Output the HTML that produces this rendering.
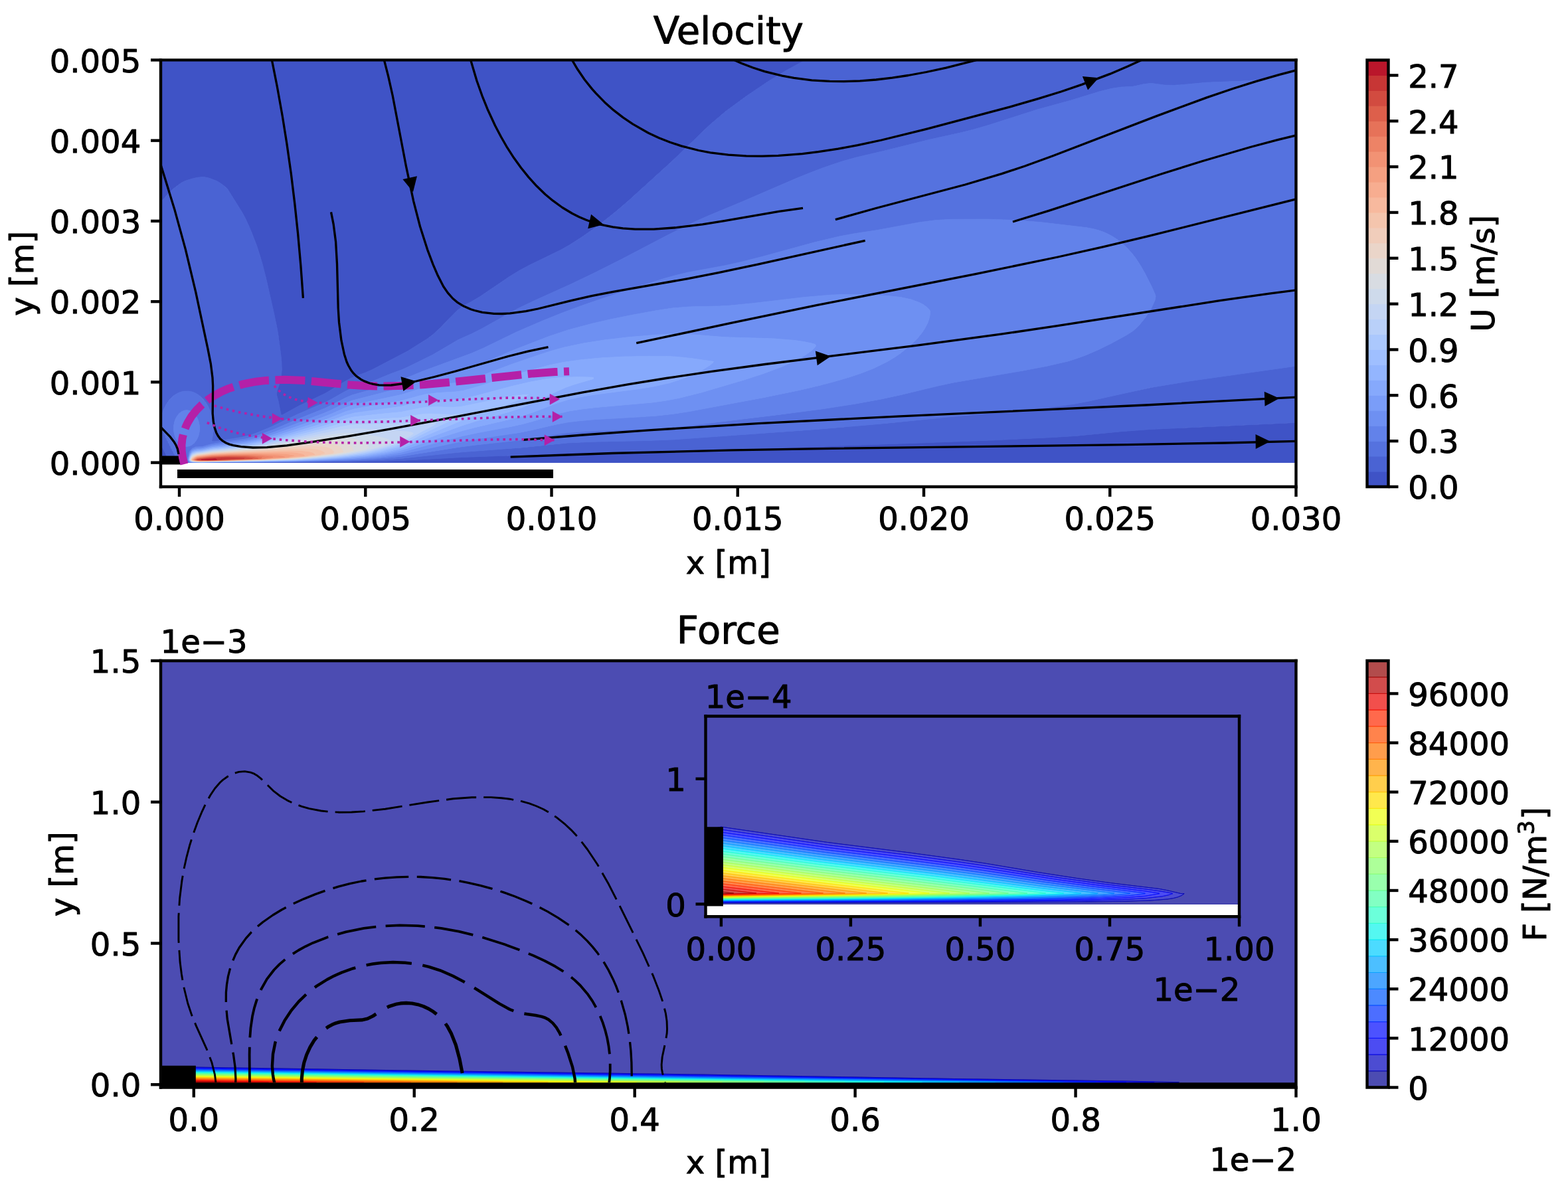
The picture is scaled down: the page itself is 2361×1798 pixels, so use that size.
<!DOCTYPE html>
<html><head><meta charset="utf-8"><title>Velocity and Force</title><style>html,body{margin:0;padding:0;background:#fff;overflow:hidden;}svg{display:block;}svg text{stroke:#000;stroke-width:1px;stroke-linejoin:round;}</style></head><body>
<svg width="2361px" height="1798px" viewBox="0 0 2361 1798" version="1.1">
<defs>
<style type="text/css">*{stroke-linejoin: round; stroke-linecap: butt}</style>
</defs>
<g id="figure_1">
<g id="patch_1">
<path d="M0 1798L2361 1798 2361 0 0 0z" style="fill: #ffffff"/>
</g>
<g id="axes_1">
<g id="patch_2">
<path d="M242 733L1951.5 733 1951.5 90.4 242 90.4z" style="fill: #ffffff"/>
</g>
<g id="QuadContourSet_1">
<path d="M242 88.4L1216.7 88.4 1186 104.9 1156 123.1 1124 144.7 1092 168.2 1068 188.8 1010.1 244.4 946.2 302.4 927.5 318.4 910 332.4 894.1 344.4 877 356.4 858.4 368.4 844.3 376.4 798 398.9 782 407.4 766 417.3 723.1 446.4 710 454.2 696 461.6 686 469.8 662.3 494.4 651.2 504.4 643.1 510.4 614 528.7 561 556.4 550 561.3 536 566.3 528 569.8 518 575.3 490 592.3 450 611.3 426 624.5 424 625.2 423 624.4 419.1 604.4 416.3 594.4 417.1 588.4 422.6 572.4 424.2 556.4 423.8 544.4 422.6 532.4 419.2 506.4 416.4 490.4 400.4 418.4 391.9 386.4 386 368.4 379.1 350.4 370.2 330.4 364.9 320.4 342.4 284.4 340.5 282.4 332 275.9 326 272.4 316 268.6 308 266.8 300 266.9 292 268.4 280 272 274 274.8 266 280.2 258 286.8 246 299.9 240 305 240 88.4zM1952 636.3L1954 636.2 1954 696.5 329.5 696.5 484 695.8 572 694.5 608 693.2 694 688.6 782 685.4 854 681.9 1022 679.3 1382 667.1 1502 662.5 1586 658.5 1622 656.2 1688 649.7 1730 646.6 1950.9 636.4zM240.9 666.4L256 696.5 240 696.5 240 664.5z" clip-path="url(#p6c0c608e24)" style="fill: #3f53c6; stroke: #3f53c6; stroke-width: 1.0; stroke-linejoin: round"/>
<path d="M1214 89.7L1216.7 88.4 1954 88.4 1954 107.1 1936 112.7 1922 116.1 1906 118.9 1890 120.8 1868 122.3 1816 124.3 1780 127.7 1768 128.4 1754 128.2 1736 125.8 1730 125.8 1722 126.8 1706 130.3 1688 131.2 1674 133.3 1656 137.8 1612 151.3 1562 165 1488.8 188.4 1466 195.1 1448 199.6 1404 209.2 1332 227.1 1290 236.9 1270 242.4 1250 248.9 1226 257.8 1198 269.1 1116 304.4 1066 325.2 1044 335 1006 353.7 935.9 390.4 896.2 410.4 858.6 428.4 804 453.1 778 465.6 724 495.8 710.8 502.4 690 511.7 651.3 534.4 614 552.8 606 556.4 588 563.1 560.3 574.4 549.1 578.4 536 582.3 528 585.4 520 589.3 496.7 602.4 488.7 606.4 448 624 404.9 644.4 379.9 654.4 368 657.7 352.6 660.4 324 664.9 320 664.9 318.6 664.4 319.9 658.4 320.9 650.4 321 642.4 320.3 634.4 318.8 626.4 316.3 618.4 313.6 612.4 310 606.3 306 601.2 301 596.4 296 593 290 590.3 284 589.1 278 589.1 272 590.3 268 591.9 262 595.6 258 599.1 254 603.6 250 609.5 246.5 616.4 244.3 622.4 242.7 628.4 241.4 636.4 241.2 638.4 241.9 640.4 241.8 642.4 243.6 644.4 243.6 646.4 245.4 648.4 245.4 650.4 247.3 652.4 247.3 654.4 249.2 656.4 249.2 658.4 251.1 660.4 251.2 662.4 253.1 664.4 253.2 666.4 255.1 668.4 255.2 670.4 257.1 672.4 257.2 674.4 259.1 676.4 259.2 678.4 261.2 680.4 261.3 682.4 263.2 684.4 263.4 686.4 265.4 688.4 265.5 690.4 267.5 692.4 267.7 694.4 269.7 696.4 256 696.5 240 664.5 240 305 246 299.9 258 286.8 272 276 278 272.8 288 269.5 296 267.5 304 266.6 308 266.8 314 268 326 272.4 330 274.6 338 280.4 342.4 284.4 364.9 320.4 369.2 328.4 375.7 342.4 386.7 370.4 395.3 398.4 400.8 420.4 412.2 470.4 417.9 498.4 422.8 534.4 423.9 546.4 424.2 556.4 422.6 572.4 417.1 588.4 416.3 594.4 419.1 604.4 423 624.4 424 625.2 426 624.5 450 611.3 490 592.3 518 575.3 528 569.8 536 566.3 550 561.3 561 556.4 614 528.7 643.1 510.4 651.2 504.4 662.3 494.4 686 469.8 696 461.6 710 454.2 723.1 446.4 766 417.3 782 407.4 798 398.9 844.3 376.4 858.4 368.4 877 356.4 894.1 344.4 910 332.4 927.5 318.4 946.2 302.4 1010.1 244.4 1068 188.8 1092 168.2 1124 144.7 1156 123.1 1184 106 1212.7 90.4zM1942 552.4L1954 550.8 1954 636.2 1730 646.6 1688 649.7 1620 656.3 1582 658.7 1496 662.8 1366 667.7 1022 679.3 854 681.9 782 685.4 696 688.5 608 693.2 570 694.5 464 695.9 297 696.4 468 695.3 530 694.1 572.2 692.4 608 689.9 658 684.3 700 680.2 786 673.9 854 666.9 890 665.3 978 663.3 1018 661.6 1203.3 648.4 1282 642.1 1343.9 636.4 1426 628.1 1530 618.6 1604 610.3 1636 604.7 1684 593.9 1736 582.9 1800 572.5 1941.8 552.4z" clip-path="url(#p6c0c608e24)" style="fill: #4a63d3; stroke: #4a63d3; stroke-width: 1.0; stroke-linejoin: round"/>
<path d="M1950 108.3L1954 107.1 1954 550.8 1792 573.7 1732 583.6 1640 603.9 1618 608.2 1592 611.8 1542 617.4 1424 628.3 1322.9 638.4 1229.8 646.4 1014 661.9 976 663.4 892 665.2 854 666.9 782 674.2 690 681.1 606 690.1 566 692.7 522 694.3 458 695.4 269.8 696.5 267.7 694.4 267.5 692.4 265.5 690.4 265.4 688.4 263.4 686.4 263.2 684.4 261.3 682.4 261.2 680.4 259.2 678.4 259.1 676.4 257.2 674.4 257.1 672.4 255.2 670.4 255.1 668.4 253.2 666.4 253.1 664.4 251.2 662.4 251.1 660.4 249.2 658.4 249.2 656.4 247.3 654.4 247.3 652.4 245.4 650.4 245.4 648.4 243.6 646.4 243.6 644.4 241.8 642.4 241.9 640.4 241.2 638.4 242.7 628.4 246 617.7 250.6 608.4 256 601.2 262 595.6 266 593 270 591.1 276 589.3 284 589.1 290 590.3 294 591.9 298 594.2 302 597.2 308.6 604.4 312 609.5 314.6 614.4 317 620.4 318.8 626.4 320.8 638.4 321.1 646.4 320.7 652.4 318.6 664.4 320 664.9 324 664.9 364.6 658.4 373.4 656.4 385.4 652.4 409.4 642.4 448 624 488.7 606.4 496.7 602.4 520 589.3 528 585.4 536 582.3 549.1 578.4 560.3 574.4 588 563.1 606 556.4 614 552.8 651.3 534.4 690 511.7 710.8 502.4 724 495.8 778 465.6 804 453.1 858.6 428.4 896.2 410.4 935.9 390.4 1006 353.7 1044 335 1066 325.2 1116 304.4 1206 265.7 1238 253.2 1268 243 1290 236.9 1334 226.6 1398 210.6 1448 199.6 1464 195.7 1488.8 188.4 1562 165 1612 151.3 1656 137.8 1674 133.3 1688 131.2 1706 130.3 1722 126.8 1730 125.8 1736 125.8 1754 128.2 1768 128.4 1780 127.7 1816 124.3 1868 122.3 1890 120.8 1906 118.9 1922 116.1 1936 112.7 1949.7 108.4zM1429.3 330.4L1408 331.8 1384 334.9 1320 346.8 1286 351.9 1264 356 1226 365.1 1148 386.4 1116.7 394.4 1092 399.9 1036 410.2 1018 414.5 1000 419.5 962 431.4 914 447.2 878 459.6 846 471.4 816 483.5 778 499.9 728 524.2 710 532.1 636 559.3 606 571.7 558 587 530 595 520 599.3 490 614.6 448 631.4 412.9 646.4 391.8 654.4 379.9 658.4 370 660.9 324 667.8 316 669.4 305.5 672.4 294 673.2 292.1 674.4 290 674.8 286.4 678.4 285.3 680.4 284.5 682.4 284 686.8 283 688.4 282.6 692.4 283.2 694.4 286 696.1 434 695.3 522 693.2 564 691 604 687.2 690 673.4 716 670 782 662.9 838 653.8 854 651.6 890 649 978 645.6 1018 642.8 1044 640 1172.3 624.4 1240 615.5 1285.9 608.4 1328 600.7 1356.9 594.4 1412 581.1 1436 575.9 1538.4 558.4 1576 551.3 1608 543.9 1622 539.5 1635.7 534.4 1654.1 526.4 1674.4 516.4 1696.3 504.4 1706 498.2 1714.5 490.4 1724.4 478.4 1733.3 464.4 1738.9 452.4 1740 446.4 1738.9 442.4 1733.5 430.4 1724.4 412.4 1717.6 400.4 1710 388.8 1703.5 380.4 1696 372.4 1689.5 366.4 1682 360.6 1675.7 356.4 1668.3 352.4 1662 349.6 1654 346.8 1646 344.7 1636 342.8 1568 334.8 1530 331.7 1488 330.2 1430 330.4zM276.9 618.4L274 619.6 270 622.5 266.8 626.4 264.6 630.4 263.1 634.4 261.8 640.4 261.6 646.4 261.9 650.4 263.3 656.4 265 660.4 267.4 664.4 270 667.5 272 669.1 276 671.3 280 672.2 284 671.9 288 670.4 292 667.5 294.6 664.4 297 660.4 298.7 656.4 300.1 650.4 300.4 646.4 300.2 640.4 298.9 634.4 297.4 630.4 295.2 626.4 292 622.5 289.3 620.4 286 618.7 282 617.8 278 618.1z" clip-path="url(#p6c0c608e24)" style="fill: #5572df; stroke: #5572df; stroke-width: 1.0; stroke-linejoin: round"/>
<path d="M1430 330.4L1488 330.2 1530 331.7 1568 334.8 1636 342.8 1646 344.7 1654 346.8 1662 349.6 1668.3 352.4 1675.7 356.4 1682 360.6 1689.5 366.4 1696 372.4 1703.5 380.4 1710 388.8 1717.6 400.4 1724.4 412.4 1733.5 430.4 1738.9 442.4 1740 446.4 1738.9 452.4 1733.3 464.4 1724.4 478.4 1714.5 490.4 1706 498.2 1696.3 504.4 1674.4 516.4 1654.1 526.4 1635.7 534.4 1622 539.5 1608 543.9 1576 551.3 1538.4 558.4 1436 575.9 1412 581.1 1356.9 594.4 1328 600.7 1285.9 608.4 1240 615.5 1172.3 624.4 1044 640 1018 642.8 978 645.6 890 649 854 651.6 838 653.8 782 662.9 716 670 690 673.4 604 687.2 564 691 522 693.2 434 695.3 286 696.1 283.2 694.4 282.6 692.4 283 688.4 284 686.8 284.5 682.4 285.3 680.4 286.4 678.4 290 674.8 292.1 674.4 294 673.2 305.5 672.4 316 669.4 324 667.8 370 660.9 379.9 658.4 391.8 654.4 412.9 646.4 448 631.4 490 614.6 520 599.3 530 595 558 587 606 571.7 636 559.3 710 532.1 728 524.2 778 499.9 816 483.5 846 471.4 878 459.6 914 447.2 962 431.4 1000 419.5 1018 414.5 1036 410.2 1092 399.9 1116.7 394.4 1148 386.4 1226 365.1 1264 356 1286 351.9 1320 346.8 1384 334.9 1408 331.8 1429.3 330.4zM1248.3 444.4L1212 447.5 1134 456.7 1100 460.1 1084 461 1038 462 1012 464.1 988 467.8 950 474.7 920 480.8 892 487.2 856 496.8 826 506.8 774 526.9 723.6 548.4 702 556.2 692 559.1 662 566 640 571.8 604 584.3 530 603.3 520 607.3 496.7 618.4 487.3 622.4 413.5 650.4 390 658.4 376 662.4 370 663.6 320 670.6 304.7 674.4 296 675.2 290 677 288 678.6 285.9 682.4 285.1 684.4 283.5 692.4 284.3 694.4 286 695.6 288 695.9 442 694.7 498 693.1 540 691.1 571.5 688.4 604 684.1 688 666.1 716 661.2 782 651.4 800 647.7 838 638.9 856 635.6 874 633.5 896 631.6 966 627.6 990 625.9 1014 623.2 1038 619.5 1150.6 598.4 1204 587.4 1233.7 580.4 1256 574.6 1277.1 568.4 1295.3 562.4 1315.8 554.4 1336.1 544.4 1346.2 538.4 1355.1 532.4 1370.2 520.4 1382.2 508.4 1388.6 500.4 1392.5 494.4 1396.7 486.4 1398.8 480.4 1400.1 474.4 1400.4 468.4 1399.2 466.4 1395.4 462.4 1390 458.6 1384 455.5 1372 451.1 1356 447.6 1336 445.5 1292 443.5 1272 443.4 1250 444.3zM278 618.1L282 617.8 286 618.7 289.3 620.4 292 622.5 295.2 626.4 297.4 630.4 298.9 634.4 300.2 640.4 300.4 646.4 300.1 650.4 298.7 656.4 297 660.4 294.6 664.4 292 667.5 288 670.4 284 671.9 280 672.2 276 671.3 272 669.1 270 667.5 267.4 664.4 265 660.4 263.3 656.4 261.9 650.4 261.6 646.4 261.8 640.4 263.1 634.4 264.6 630.4 266.8 626.4 270 622.5 274 619.6 276.9 618.4z" clip-path="url(#p6c0c608e24)" style="fill: #6282ea; stroke: #6282ea; stroke-width: 1.0; stroke-linejoin: round"/>
<path d="M1250 444.3L1272 443.4 1292 443.5 1336 445.5 1356 447.6 1372 451.1 1384 455.5 1390 458.6 1395.4 462.4 1399.2 466.4 1400.4 468.4 1400.1 474.4 1398.8 480.4 1396.7 486.4 1392.5 494.4 1388.6 500.4 1382.2 508.4 1370.2 520.4 1355.1 532.4 1346.2 538.4 1336.1 544.4 1315.8 554.4 1295.3 562.4 1277.1 568.4 1256 574.6 1233.7 580.4 1204 587.4 1150.6 598.4 1038 619.5 1014 623.2 990 625.9 966 627.6 896 631.6 874 633.5 856 635.6 838 638.9 800 647.7 782 651.4 716 661.2 688 666.1 604 684.1 571.5 688.4 540 691.1 498 693.1 442 694.7 288 695.9 286 695.6 284.3 694.4 283.5 692.4 285.1 684.4 285.9 682.4 288 678.6 290 677 296 675.2 304.7 674.4 320 670.6 370 663.6 376 662.4 390 658.4 413.5 650.4 487.3 622.4 496.7 618.4 520 607.3 530 603.3 604 584.3 640 571.8 662 566 692 559.1 702 556.2 723.6 548.4 774 526.9 826 506.8 856 496.8 892 487.2 920 480.8 950 474.7 988 467.8 1012 464.1 1038 462 1084 461 1100 460.1 1134 456.7 1212 447.5 1248.3 444.4zM986 504.4L946 507.8 910 512 878 517.1 850 523 832 527.9 810 535 770 548.8 722.7 566.4 700 573.6 688 576.2 660 579.8 642 583.1 632 585.7 604 594.5 532 609.8 520 614 496 624.6 480.6 630.4 412 654.4 385.3 662.4 366.7 666.4 320 672.3 304 676 296 676.8 290 678.6 288 680.3 285.9 684.4 284.2 692.4 284.9 694.4 286 695.2 290 695.8 380 695.3 440 694.3 490 692.6 530.4 690.4 550 688.8 568 686.8 604 681.1 658 666.3 696 656.6 720 651.5 769 642.4 786 638.7 801.8 634.4 840 622.9 858 618.7 878 615.7 898 613.4 982 606 1002 603.2 1022 599.5 1056 591 1118.9 572.4 1149.7 562.4 1176.4 552.4 1190.3 546.4 1202.5 540.4 1212.9 534.4 1221.3 528.4 1225.7 524.4 1228.6 520.4 1227 518.4 1222 517 1210 514.5 1198 512.7 1164 509.9 1092 507.8 1044 504 1026 503.1 1008 503.1 988 504.3z" clip-path="url(#p6c0c608e24)" style="fill: #6e90f2; stroke: #6e90f2; stroke-width: 1.0; stroke-linejoin: round"/>
<path d="M988 504.3L1008 503.1 1026 503.1 1044 504 1092 507.8 1164 509.9 1198 512.7 1210 514.5 1222 517 1227 518.4 1228.6 520.4 1225.7 524.4 1221.3 528.4 1212.9 534.4 1202.5 540.4 1190.3 546.4 1176.4 552.4 1149.7 562.4 1118.9 572.4 1056 591 1022 599.5 1002 603.2 982 606 898 613.4 878 615.7 858 618.7 840 622.9 801.8 634.4 786 638.7 769 642.4 720 651.5 696 656.6 658 666.3 604 681.1 568 686.8 550 688.8 530.4 690.4 490 692.6 440 694.3 380 695.3 290 695.8 286 695.2 284.9 694.4 284.2 692.4 285.9 684.4 288 680.3 290 678.6 296 676.8 304 676 320 672.3 366.7 666.4 385.3 662.4 412 654.4 480.6 630.4 496 624.6 520 614 532 609.8 604 594.5 632 585.7 642 583.1 660 579.8 688 576.2 700 573.6 722.7 566.4 770 548.8 810 535 832 527.9 850 523 878 517.1 910 512 946 507.8 986 504.4zM976 536.4L938 537.2 904 539.1 874 541.9 848 545.6 828 549.8 806 555.6 770 566.1 719.2 582.4 698 588.3 686 590 658 591.7 642 593.7 632 595.9 604 603.7 534 615.8 520 620.1 494.3 630.4 482.8 634.4 414.9 656.4 393.9 662.4 372 667.4 320 673.7 306 676.9 298 677.7 292 679.1 290 679.9 288 681.7 286.6 684.4 285.2 688.4 284.6 692.4 285.4 694.4 288 695.4 290 695.6 302 695.9 430 694.2 464 693.1 500 691.3 532 689 556 686.6 578 683.3 602 678.5 614 675.1 640 666.1 696 648.6 720 642.4 768 631.3 786 626.4 803.6 620.4 840 606.5 856 601.5 874 597.7 894 594.3 960 585.8 984 582 1008 576.6 1030 569.4 1046.7 562.4 1058.4 556.4 1068 550.4 1073 546.4 1074.5 544.4 1040 539.6 1020 537.4 1004 536.5 978 536.4z" clip-path="url(#p6c0c608e24)" style="fill: #7a9df8; stroke: #7a9df8; stroke-width: 1.0; stroke-linejoin: round"/>
<path d="M978 536.4L1004 536.5 1020 537.4 1040 539.6 1074.5 544.4 1073 546.4 1068 550.4 1058.4 556.4 1046.7 562.4 1030 569.4 1008 576.6 984 582 960 585.8 894 594.3 874 597.7 856 601.5 840 606.5 803.6 620.4 786 626.4 768 631.3 720 642.4 696 648.6 640 666.1 614 675.1 602 678.5 578 683.3 556 686.6 532 689 500 691.3 464 693.1 430 694.2 302 695.9 290 695.6 288 695.4 285.4 694.4 284.6 692.4 285.2 688.4 286.6 684.4 288 681.7 290 679.9 292 679.1 298 677.7 306 676.9 320 673.7 372 667.4 393.9 662.4 414.9 656.4 482.8 634.4 494.3 630.4 520 620.1 534 615.8 604 603.7 632 595.9 642 593.7 658 591.7 686 590 698 588.3 719.2 582.4 770 566.1 806 555.6 828 549.8 848 545.6 874 541.9 904 539.1 938 537.2 976 536.4zM845.3 568.4L824 570.5 798 575.3 770 581.8 716 596.3 696 601 686 602.1 656 602.5 642 603.6 632 605.4 604 612.2 534 621.9 520 625.6 492 635.8 470.8 642.4 417.2 658.4 394.5 664.4 372 669.1 320 675 304 678.4 294 679.6 290 681.1 288 683 285.7 688.4 284.9 692.4 286 694.4 290 695.4 304 695.7 408 694.3 446 693.3 478 691.8 518 689.1 552 685.5 581.6 680.4 599 676.4 608 673.8 640 661.2 696 640.7 718 633.8 765.8 620.4 784 614.4 803.3 606.4 838 589.5 852 583.3 864 579.1 893.4 570.4 893.4 568.4 888 568.1 868 567.8 846 568.4z" clip-path="url(#p6c0c608e24)" style="fill: #86a9fc; stroke: #86a9fc; stroke-width: 1.0; stroke-linejoin: round"/>
<path d="M846 568.4L868 567.8 888 568.1 893.4 568.4 893.4 570.4 864 579.1 852 583.3 838 589.5 803.3 606.4 784 614.4 765.8 620.4 718 633.8 696 640.7 640 661.2 608 673.8 599 676.4 581.6 680.4 552 685.5 518 689.1 478 691.8 446 693.3 408 694.3 304 695.7 290 695.4 286 694.4 284.9 692.4 285.7 688.4 288 683 290 681.1 294 679.6 304 678.4 320 675 372 669.1 394.5 664.4 417.2 658.4 470.8 642.4 492 635.8 520 625.6 534 621.9 604 612.2 632 605.4 642 603.6 656 602.5 686 602.1 696 601 716 596.3 770 581.8 798 575.3 824 570.5 845.3 568.4zM790.7 594.4L776 596.1 762 598.4 694 612.5 682 613.3 656 612.8 642 613.3 632 614.7 604 620.6 572 623.6 532 628.1 518 631.5 492 640.1 462.7 648.4 411.3 662.4 394.2 666.4 373.6 670.4 322 675.9 306 679 294 680.6 290 682.2 288 684.2 286.2 688.4 285.3 692.4 286.6 694.4 292 695.4 304 695.6 400 694.1 438 693.1 466 691.8 510 688.8 546 684.8 572 680.3 600 673.3 613.6 668.4 638 657.2 696 632.7 716 625.3 760.1 610.4 775.8 604.4 792.6 596.4 794 594.6 795.5 594.4 792 594.3z" clip-path="url(#p6c0c608e24)" style="fill: #93b5fe; stroke: #93b5fe; stroke-width: 1.0; stroke-linejoin: round"/>
<path d="M792 594.3L795.5 594.4 794 594.6 792.6 596.4 775.8 604.4 760.1 610.4 716 625.3 696 632.7 638 657.2 613.6 668.4 600 673.3 572 680.3 546 684.8 510 688.8 466 691.8 438 693.1 400 694.1 304 695.6 292 695.4 286.6 694.4 285.3 692.4 286.2 688.4 288 684.2 290 682.2 294 680.6 306 679 322 675.9 373.6 670.4 394.2 666.4 411.3 662.4 462.7 648.4 492 640.1 518 631.5 532 628.1 572 623.6 604 620.6 632 614.7 642 613.3 656 612.8 682 613.3 694 612.5 762 598.4 776 596.1 790.7 594.4zM631.6 624.4L604 629.1 540 633 528 634.5 516 637.1 492 644.1 460 652.4 402.9 666.4 382.3 670.4 370 672.3 318 677.5 304 680.2 296 681 290 683.1 287.4 686.4 286.1 690.4 285.7 692.4 286 693 287.3 694.4 290 695.1 300 695.5 394 694 448 692.3 503.5 688.4 526 686.1 546 683.4 560 680.9 576 677.3 592 673 606 668.4 615 664.4 638 652.6 692.6 626.4 694 625.2 696.9 624.4 696 623.6 678 624.4 648 623.2 640 623.4 632 624.3z" clip-path="url(#p6c0c608e24)" style="fill: #9fbfff; stroke: #9fbfff; stroke-width: 1.0; stroke-linejoin: round"/>
<path d="M632 624.3L640 623.4 648 623.2 678 624.4 696 623.6 696.9 624.4 694 625.2 692.6 626.4 638 652.6 615 664.4 606 668.4 592 673 576 677.3 560 680.9 546 683.4 526 686.1 503.5 688.4 448 692.3 394 694 300 695.5 290 695.1 287.3 694.4 286 693 285.7 692.4 286.1 690.4 287.4 686.4 290 683.1 296 681 304 680.2 318 677.5 370 672.3 382.3 670.4 402.9 666.4 460 652.4 492 644.1 516 637.1 528 634.5 540 633 604 629.1 631.6 624.4zM621.1 636.4L604 638.2 540 639.2 526 640.3 514 642.5 456 656.4 401.9 668.4 372 673.3 320 678.1 306 680.8 296 681.9 290 684.1 288 686.4 286.1 692.4 288 694.5 300 695.3 388 693.9 438 692.3 480 689.6 522 685.4 548 681.6 568 677.3 594 669.9 602 667.1 610 663.6 636 649.2 653 640.4 654 639.2 656.5 638.4 656 637.2 654 636.6 644 635.2 634 635.1 622 636.3z" clip-path="url(#p6c0c608e24)" style="fill: #abc8fd; stroke: #abc8fd; stroke-width: 1.0; stroke-linejoin: round"/>
<path d="M622 636.3L634 635.1 644 635.2 654 636.6 656 637.2 656.5 638.4 654 639.2 653 640.4 636 649.2 610 663.6 602 667.1 594 669.9 568 677.3 548 681.6 522 685.4 480 689.6 438 692.3 388 693.9 300 695.3 288 694.5 286.1 692.4 288 686.4 290 684.1 296 681.9 306 680.8 320 678.1 372 673.3 401.9 668.4 456 656.4 514 642.5 526 640.3 540 639.2 604 638.2 621.1 636.4zM521.6 646.4L506 648.9 400 670.4 372 674.5 320 679 306 681.5 296 682.7 290 685 287.5 688.4 286.4 692.4 288 694.1 292 694.9 302 695.2 384 693.7 430 692.2 466 690.1 505.3 686.4 526 683.7 546 680.5 560 677.5 576 673.3 592 668.1 604 663.6 617.4 656.4 618 655.6 620.6 654.4 622.3 652.4 620 651.2 616 650.3 584 647.7 538 645.7 522 646.4z" clip-path="url(#p6c0c608e24)" style="fill: #b9d0f9; stroke: #b9d0f9; stroke-width: 1.0; stroke-linejoin: round"/>
<path d="M522 646.4L538 645.7 584 647.7 616 650.3 620 651.2 622.3 652.4 620.6 654.4 618 655.6 617.4 656.4 604 663.6 592 668.1 576 673.3 560 677.5 546 680.5 526 683.7 505.3 686.4 466 690.1 430 692.2 384 693.7 302 695.2 292 694.9 288 694.1 286.4 692.4 287.5 688.4 290 685 296 682.7 306 681.5 320 679 372 674.5 400 670.4 506 648.9 521.6 646.4zM516.2 652.4L504 653.8 484 656.9 397.1 672.4 370 675.8 320 679.9 305.5 682.4 296 683.4 290 685.8 288 688.3 286.8 692.4 288 693.7 289.7 694.4 296 695 386 693.4 444 691.1 492 687 513.6 684.4 532 681.6 548 678.6 562 675.3 578 670.7 580 669.6 584 668.7 584.9 668.4 586 667.1 589.8 666.4 588.6 664.4 585.7 662.4 580.6 660.4 570 657.8 554 655.1 536 652.8 526 652.2 518 652.3z" clip-path="url(#p6c0c608e24)" style="fill: #c4d5f3; stroke: #c4d5f3; stroke-width: 1.0; stroke-linejoin: round"/>
<path d="M518 652.3L526 652.2 536 652.8 554 655.1 570 657.8 580.6 660.4 585.7 662.4 588.6 664.4 589.8 666.4 586 667.1 584.9 668.4 584 668.7 580 669.6 578 670.7 562 675.3 548 678.6 532 681.6 513.6 684.4 492 687 444 691.1 386 693.4 296 695 289.7 694.4 288 693.7 286.8 692.4 288 688.3 290 685.8 296 683.4 305.5 682.4 320 679.9 370 675.8 397.1 672.4 484 656.9 504 653.8 516.2 652.4zM504.6 658.4L478 661.4 398 673.7 372 676.7 320 680.7 306 683 298 683.7 292 685.6 290 686.7 288.6 688.4 287.1 692.4 288 693.4 290 694.2 298 694.9 384 693.2 440 690.9 474 688.2 510 683.9 542.1 678.4 546 677.2 551.1 676.4 552 675.3 555.6 674.4 554 671.1 551.1 668.4 546 665.6 537.9 662.4 530 660.2 522 658.7 514 658.2 506 658.3z" clip-path="url(#p6c0c608e24)" style="fill: #cedaeb; stroke: #cedaeb; stroke-width: 1.0; stroke-linejoin: round"/>
<path d="M506 658.3L514 658.2 522 658.7 530 660.2 537.9 662.4 546 665.6 551.1 668.4 554 671.1 555.6 674.4 552 675.3 551.1 676.4 546 677.2 542.1 678.4 510 683.9 474 688.2 440 690.9 384 693.2 298 694.9 290 694.2 288 693.4 287.1 692.4 288.6 688.4 290 686.7 292 685.6 298 683.7 306 683 320 680.7 372 676.7 398 673.7 478 661.4 504.6 658.4zM482.2 664.4L386.4 676.4 318 681.7 296 684.8 290 687.5 288 690.4 287.5 692.4 288 693 290 693.9 292.4 694.4 300 694.8 394 692.6 428 691.2 454 689.4 478 687.1 504 683.8 525.2 680.4 528 679.1 532 678.4 530.7 674.4 527.1 670.4 524 668.3 518 665.8 511.9 664.4 504 663.6 484 664.2z" clip-path="url(#p6c0c608e24)" style="fill: #d8dce2; stroke: #d8dce2; stroke-width: 1.0; stroke-linejoin: round"/>
<path d="M484 664.2L504 663.6 511.9 664.4 518 665.8 524 668.3 527.1 670.4 530.7 674.4 532 678.4 528 679.1 525.2 680.4 504 683.8 478 687.1 454 689.4 428 691.2 394 692.6 300 694.8 292.4 694.4 290 693.9 288 693 287.5 692.4 288 690.4 290 687.5 296 684.8 318 681.7 386.4 676.4 482.2 664.4zM479 668.4L442 671.6 406 675.8 386 677.6 320 682.2 305.8 684.4 298 685.1 294 686.1 290 688.3 287.8 692.4 290 693.7 296 694.5 352 693.6 410 691.7 440 690 466 687.8 502 683.2 516.6 680.4 515.1 676.4 513.3 674.4 510.5 672.4 506 670.5 496 668.6 480 668.4z" clip-path="url(#p6c0c608e24)" style="fill: #e1dad6; stroke: #e1dad6; stroke-width: 1.0; stroke-linejoin: round"/>
<path d="M480 668.4L496 668.6 506 670.5 510.5 672.4 513.3 674.4 515.1 676.4 516.6 680.4 502 683.2 466 687.8 440 690 410 691.7 352 693.6 296 694.5 290 693.7 287.8 692.4 290 688.3 294 686.1 298 685.1 305.8 684.4 320 682.2 386 677.6 406 675.8 442 671.6 479 668.4zM436.2 674.4L398 677.9 318 683.1 296 686.1 290 689.1 288.2 692.4 290 693.4 294 694.2 304 694.5 392 692.2 446 689.1 472.7 686.4 501.5 682.4 502.6 680.4 500 677.4 496 675.2 492 674 484 672.8 468 672.5 438 674.3z" clip-path="url(#p6c0c608e24)" style="fill: #ead5c9; stroke: #ead5c9; stroke-width: 1.0; stroke-linejoin: round"/>
<path d="M438 674.3L468 672.5 484 672.8 492 674 496 675.2 500 677.4 502.6 680.4 501.5 682.4 472.7 686.4 446 689.1 392 692.2 304 694.5 294 694.2 290 693.4 288.2 692.4 290 689.1 296 686.1 318 683.1 398 677.9 436.2 674.4zM442.4 676.4L400 679.2 326 683.1 298 686.3 292 688.5 290 689.9 288.7 692.4 290 693.1 296 694.2 302 694.4 354 693.2 398 691.7 432 689.8 458 687.5 482.8 684.4 484 683.5 488.7 682.4 486 680.1 480 677.9 474 676.9 466 676.2 444 676.4z" clip-path="url(#p6c0c608e24)" style="fill: #f0cdbb; stroke: #f0cdbb; stroke-width: 1.0; stroke-linejoin: round"/>
<path d="M444 676.4L466 676.2 474 676.9 480 677.9 486 680.1 488.7 682.4 484 683.5 482.8 684.4 458 687.5 432 689.8 398 691.7 354 693.2 302 694.4 296 694.2 290 693.1 288.7 692.4 290 689.9 292 688.5 298 686.3 326 683.1 400 679.2 442.4 676.4zM404.7 680.4L348 682.6 320 684.3 298 686.9 294 688.2 290 690.9 289.3 692.4 290 692.8 294 693.7 300 694.2 348 693.2 394 691.6 444 688.4 462.9 686.4 466 685.2 473.8 684.4 471.1 682.4 466 680.9 454 679.5 436 679.1 406 680.3z" clip-path="url(#p6c0c608e24)" style="fill: #f4c5ad; stroke: #f4c5ad; stroke-width: 1.0; stroke-linejoin: round"/>
<path d="M406 680.3L436 679.1 454 679.5 466 680.9 471.1 682.4 473.8 684.4 466 685.2 462.9 686.4 444 688.4 394 691.6 348 693.2 300 694.2 294 693.7 290 692.8 289.3 692.4 290 690.9 294 688.2 298 686.9 320 684.3 348 682.6 404.7 680.4zM379.3 682.4L348 683.4 324 684.7 296 688 292 690 289.8 692.4 296 693.7 302 694 346 693.1 410 690.5 436 688.7 446 687.1 458.3 686.4 458 685.6 456 684.4 454 683.9 446 682.4 438 681.8 424 681.6 380 682.4z" clip-path="url(#p6c0c608e24)" style="fill: #f7b99e; stroke: #f7b99e; stroke-width: 1.0; stroke-linejoin: round"/>
<path d="M380 682.4L424 681.6 438 681.8 446 682.4 454 683.9 456 684.4 458 685.6 458.3 686.4 446 687.1 436 688.7 410 690.5 346 693.1 302 694 296 693.7 289.8 692.4 292 690 296 688 324 684.7 348 683.4 379.3 682.4zM341.9 684.4L320 685.6 298 688.1 294 689.5 290.5 692.4 296 693.5 302 693.8 344 693 400 690.8 416 689.4 434.3 688.4 436 687.4 438 686.9 442.4 686.4 432 684.5 418 683.8 386 683.4 342 684.4z" clip-path="url(#p6c0c608e24)" style="fill: #f7ad90; stroke: #f7ad90; stroke-width: 1.0; stroke-linejoin: round"/>
<path d="M342 684.4L386 683.4 418 683.8 432 684.5 442.4 686.4 438 686.9 436 687.4 434.3 688.4 416 689.4 400 690.8 344 693 302 693.8 296 693.5 290.5 692.4 294 689.5 298 688.1 320 685.6 341.9 684.4zM318.8 686.4L298 688.7 296 689.3 293.7 690.4 291.4 692.4 300 693.6 342 692.9 388 691.2 401.7 690.4 412 689 428.5 688.4 424 687.1 418 686.2 384 684.6 350 684.9 320 686.3z" clip-path="url(#p6c0c608e24)" style="fill: #f5a081; stroke: #f5a081; stroke-width: 1.0; stroke-linejoin: round"/>
<path d="M320 686.3L350 684.9 384 684.6 418 686.2 424 687.1 428.5 688.4 412 689 401.7 690.4 388 691.2 342 692.9 300 693.6 291.4 692.4 293.7 690.4 296 689.3 298 688.7 318.8 686.4zM330.8 686.4L318 687.1 298 689.4 295.1 690.4 292.4 692.4 298 693.3 340 692.8 390 690.8 397.2 690.4 402 689 410.7 688.4 393.3 686.4 370 685.6 350 685.7 332 686.4z" clip-path="url(#p6c0c608e24)" style="fill: #f29274; stroke: #f29274; stroke-width: 1.0; stroke-linejoin: round"/>
<path d="M332 686.4L350 685.7 370 685.6 393.3 686.4 410.7 688.4 402 689 397.2 690.4 390 690.8 340 692.8 298 693.3 292.4 692.4 295.1 690.4 298 689.4 318 687.1 330.8 686.4zM312.7 688.4L296.7 690.4 293.4 692.4 300 693.2 342 692.6 393.1 690.4 394.2 688.4 374 686.7 346 686.6 314 688.2z" clip-path="url(#p6c0c608e24)" style="fill: #ed8366; stroke: #ed8366; stroke-width: 1.0; stroke-linejoin: round"/>
<path d="M314 688.2L346 686.6 374 686.7 394.2 688.4 393.1 690.4 342 692.6 300 693.2 293.4 692.4 296.7 690.4 312.7 688.4zM319.3 688.4L298 690.7 294.6 692.4 300 693 340 692.5 358 691.3 388.9 690.4 381 688.4 368 687.6 346 687.4 320 688.4z" clip-path="url(#p6c0c608e24)" style="fill: #e67259; stroke: #e67259; stroke-width: 1.0; stroke-linejoin: round"/>
<path d="M320 688.4L346 687.4 368 687.6 381 688.4 388.9 690.4 358 691.3 340 692.5 300 693 294.6 692.4 298 690.7 319.3 688.4zM339.1 688.4L316 689.4 300 691.1 295.8 692.4 312 692.8 336.8 692.4 350 691.3 380.1 690.4 372 689.2 362 688.5 340 688.4z" clip-path="url(#p6c0c608e24)" style="fill: #dd5f4b; stroke: #dd5f4b; stroke-width: 1.0; stroke-linejoin: round"/>
<path d="M340 688.4L362 688.5 372 689.2 380.1 690.4 350 691.3 336.8 692.4 312 692.8 295.8 692.4 300 691.1 316 689.4 339.1 688.4zM313.6 690.4L297.5 692.4 314 692.7 331.1 692.4 340 691.2 367.6 690.4 346 689.3 314 690.4z" clip-path="url(#p6c0c608e24)" style="fill: #d24b40; stroke: #d24b40; stroke-width: 1.0; stroke-linejoin: round"/>
<path d="M314 690.4L346 689.3 367.6 690.4 340 691.2 331.1 692.4 314 692.7 297.5 692.4 313.6 690.4zM333.9 690.4L334 690.4zM303 692.4L326.5 692.4 326 691.5 324 690.8 304 692.3z" clip-path="url(#p6c0c608e24)" style="fill: #c73635; stroke: #c73635; stroke-width: 1.0; stroke-linejoin: round"/>
<path d="M334 690.4L333.9 690.4zM304 692.3L324 690.8 326 691.5 326.5 692.4 303 692.4z" clip-path="url(#p6c0c608e24)" style="fill: #ba162b; stroke: #ba162b; stroke-width: 1.0; stroke-linejoin: round"/>
</g>
<g id="matplotlib.axis_1">
<g id="xtick_1">
<g id="line2d_1">

<g>
<path d="M0 0L0 15" transform="translate(270.02459 733)" style="stroke: #000000; stroke-width: 4.4"/>
</g>
</g>
<g id="text_1">
<text style="font-size: 48px; font-family: 'DejaVu Sans'; text-anchor: middle" x="270.02459" y="798.4725" transform="rotate(-0 270.02459 798.4725)">0.000</text>
</g>
</g>
<g id="xtick_2">
<g id="line2d_2">
<g>
<path d="M0 0L0 15" transform="translate(550.270492 733)" style="stroke: #000000; stroke-width: 4.4"/>
</g>
</g>
<g id="text_2">
<text style="font-size: 48px; font-family: 'DejaVu Sans'; text-anchor: middle" x="550.270492" y="798.4725" transform="rotate(-0 550.270492 798.4725)">0.005</text>
</g>
</g>
<g id="xtick_3">
<g id="line2d_3">
<g>
<path d="M0 0L0 15" transform="translate(830.516393 733)" style="stroke: #000000; stroke-width: 4.4"/>
</g>
</g>
<g id="text_3">
<text style="font-size: 48px; font-family: 'DejaVu Sans'; text-anchor: middle" x="830.516393" y="798.4725" transform="rotate(-0 830.516393 798.4725)">0.010</text>
</g>
</g>
<g id="xtick_4">
<g id="line2d_4">
<g>
<path d="M0 0L0 15" transform="translate(1110.762295 733)" style="stroke: #000000; stroke-width: 4.4"/>
</g>
</g>
<g id="text_4">
<text style="font-size: 48px; font-family: 'DejaVu Sans'; text-anchor: middle" x="1110.762295" y="798.4725" transform="rotate(-0 1110.762295 798.4725)">0.015</text>
</g>
</g>
<g id="xtick_5">
<g id="line2d_5">
<g>
<path d="M0 0L0 15" transform="translate(1391.008197 733)" style="stroke: #000000; stroke-width: 4.4"/>
</g>
</g>
<g id="text_5">
<text style="font-size: 48px; font-family: 'DejaVu Sans'; text-anchor: middle" x="1391.008197" y="798.4725" transform="rotate(-0 1391.008197 798.4725)">0.020</text>
</g>
</g>
<g id="xtick_6">
<g id="line2d_6">
<g>
<path d="M0 0L0 15" transform="translate(1671.254098 733)" style="stroke: #000000; stroke-width: 4.4"/>
</g>
</g>
<g id="text_6">
<text style="font-size: 48px; font-family: 'DejaVu Sans'; text-anchor: middle" x="1671.254098" y="798.4725" transform="rotate(-0 1671.254098 798.4725)">0.025</text>
</g>
</g>
<g id="xtick_7">
<g id="line2d_7">
<g>
<path d="M0 0L0 15" transform="translate(1951.5 733)" style="stroke: #000000; stroke-width: 4.4"/>
</g>
</g>
<g id="text_7">
<text style="font-size: 48px; font-family: 'DejaVu Sans'; text-anchor: middle" x="1951.5" y="798.4725" transform="rotate(-0 1951.5 798.4725)">0.030</text>
</g>
</g>
<g id="text_8">
<text style="font-size: 48px; font-family: 'DejaVu Sans'; text-anchor: middle" x="1096.75" y="864.4275" transform="rotate(-0 1096.75 864.4275)">x [m]</text>
</g>
</g>
<g id="matplotlib.axis_2">
<g id="ytick_1">
<g id="line2d_8">

<g>
<path d="M0 0L-15 0" transform="translate(242 696.626415)" style="stroke: #000000; stroke-width: 4.4"/>
</g>
</g>
<g id="text_9">
<text style="font-size: 48px; font-family: 'DejaVu Sans'; text-anchor: end" x="212.2" y="714.862665" transform="rotate(-0 212.2 714.862665)">0.000</text>
</g>
</g>
<g id="ytick_2">
<g id="line2d_9">
<g>
<path d="M0 0L-15 0" transform="translate(242 575.381132)" style="stroke: #000000; stroke-width: 4.4"/>
</g>
</g>
<g id="text_10">
<text style="font-size: 48px; font-family: 'DejaVu Sans'; text-anchor: end" x="212.2" y="593.617382" transform="rotate(-0 212.2 593.617382)">0.001</text>
</g>
</g>
<g id="ytick_3">
<g id="line2d_10">
<g>
<path d="M0 0L-15 0" transform="translate(242 454.135849)" style="stroke: #000000; stroke-width: 4.4"/>
</g>
</g>
<g id="text_11">
<text style="font-size: 48px; font-family: 'DejaVu Sans'; text-anchor: end" x="212.2" y="472.372099" transform="rotate(-0 212.2 472.372099)">0.002</text>
</g>
</g>
<g id="ytick_4">
<g id="line2d_11">
<g>
<path d="M0 0L-15 0" transform="translate(242 332.890566)" style="stroke: #000000; stroke-width: 4.4"/>
</g>
</g>
<g id="text_12">
<text style="font-size: 48px; font-family: 'DejaVu Sans'; text-anchor: end" x="212.2" y="351.126816" transform="rotate(-0 212.2 351.126816)">0.003</text>
</g>
</g>
<g id="ytick_5">
<g id="line2d_12">
<g>
<path d="M0 0L-15 0" transform="translate(242 211.645283)" style="stroke: #000000; stroke-width: 4.4"/>
</g>
</g>
<g id="text_13">
<text style="font-size: 48px; font-family: 'DejaVu Sans'; text-anchor: end" x="212.2" y="229.881533" transform="rotate(-0 212.2 229.881533)">0.004</text>
</g>
</g>
<g id="ytick_6">
<g id="line2d_13">
<g>
<path d="M0 0L-15 0" transform="translate(242 90.4)" style="stroke: #000000; stroke-width: 4.4"/>
</g>
</g>
<g id="text_14">
<text style="font-size: 48px; font-family: 'DejaVu Sans'; text-anchor: end" x="212.2" y="108.63625" transform="rotate(-0 212.2 108.63625)">0.005</text>
</g>
</g>
<g id="text_15">
<text style="font-size: 48px; font-family: 'DejaVu Sans'; text-anchor: middle" x="50.3025" y="411.7" transform="rotate(-90 50.3025 411.7)">y [m]</text>
</g>
</g>
<g id="patch_3">
<path d="M242 733L242 90.4" style="fill: none; stroke: #000000; stroke-width: 4.4; stroke-linejoin: miter; stroke-linecap: square"/>
</g>
<g id="patch_4">
<path d="M1951.5 733L1951.5 90.4" style="fill: none; stroke: #000000; stroke-width: 4.4; stroke-linejoin: miter; stroke-linecap: square"/>
</g>
<g id="patch_5">
<path d="M242 733L1951.5 733" style="fill: none; stroke: #000000; stroke-width: 4.4; stroke-linejoin: miter; stroke-linecap: square"/>
</g>
<g id="patch_6">
<path d="M242 90.4L1951.5 90.4" style="fill: none; stroke: #000000; stroke-width: 4.4; stroke-linejoin: miter; stroke-linecap: square"/>
</g>
<g id="text_16">
<text style="font-size: 57.6px; font-family: 'DejaVu Sans'; text-anchor: middle" x="1096.75" y="66.4" transform="rotate(-0 1096.75 66.4)">Velocity</text>
</g>
<g id="patch_7">
<path d="M242 696.6L270 696.6 270 689.4 242 689.4z" clip-path="url(#p6c0c608e24)" style="stroke: #000000; stroke-width: 6; stroke-linejoin: miter"/>
</g>
</g>
<g id="axes_2">
<g id="patch_8">
<path d="M2058.5 733L2090.5 733 2090.5 90.5 2058.5 90.5z" style="fill: #ffffff"/>
</g>
<g id="QuadMesh_1">
<path d="M2058.5 733L2090.5 733 2090.5 710.1 2058.5 710.1 2058.5 733" clip-path="url(#p4823d36514)" style="fill: #3f53c6; stroke: #3f53c6; stroke-width: 1.0; stroke-linejoin: round"/>
<path d="M2058.5 710.1L2090.5 710.1 2090.5 687.1 2058.5 687.1 2058.5 710.1" clip-path="url(#p4823d36514)" style="fill: #4a63d3; stroke: #4a63d3; stroke-width: 1.0; stroke-linejoin: round"/>
<path d="M2058.5 687.1L2090.5 687.1 2090.5 664.2 2058.5 664.2 2058.5 687.1" clip-path="url(#p4823d36514)" style="fill: #5572df; stroke: #5572df; stroke-width: 1.0; stroke-linejoin: round"/>
<path d="M2058.5 664.2L2090.5 664.2 2090.5 641.2 2058.5 641.2 2058.5 664.2" clip-path="url(#p4823d36514)" style="fill: #6282ea; stroke: #6282ea; stroke-width: 1.0; stroke-linejoin: round"/>
<path d="M2058.5 641.2L2090.5 641.2 2090.5 618.3 2058.5 618.3 2058.5 641.2" clip-path="url(#p4823d36514)" style="fill: #6e90f2; stroke: #6e90f2; stroke-width: 1.0; stroke-linejoin: round"/>
<path d="M2058.5 618.3L2090.5 618.3 2090.5 595.3 2058.5 595.3 2058.5 618.3" clip-path="url(#p4823d36514)" style="fill: #7a9df8; stroke: #7a9df8; stroke-width: 1.0; stroke-linejoin: round"/>
<path d="M2058.5 595.3L2090.5 595.3 2090.5 572.4 2058.5 572.4 2058.5 595.3" clip-path="url(#p4823d36514)" style="fill: #86a9fc; stroke: #86a9fc; stroke-width: 1.0; stroke-linejoin: round"/>
<path d="M2058.5 572.4L2090.5 572.4 2090.5 549.4 2058.5 549.4 2058.5 572.4" clip-path="url(#p4823d36514)" style="fill: #93b5fe; stroke: #93b5fe; stroke-width: 1.0; stroke-linejoin: round"/>
<path d="M2058.5 549.4L2090.5 549.4 2090.5 526.5 2058.5 526.5 2058.5 549.4" clip-path="url(#p4823d36514)" style="fill: #9fbfff; stroke: #9fbfff; stroke-width: 1.0; stroke-linejoin: round"/>
<path d="M2058.5 526.5L2090.5 526.5 2090.5 503.5 2058.5 503.5 2058.5 526.5" clip-path="url(#p4823d36514)" style="fill: #abc8fd; stroke: #abc8fd; stroke-width: 1.0; stroke-linejoin: round"/>
<path d="M2058.5 503.5L2090.5 503.5 2090.5 480.6 2058.5 480.6 2058.5 503.5" clip-path="url(#p4823d36514)" style="fill: #b9d0f9; stroke: #b9d0f9; stroke-width: 1.0; stroke-linejoin: round"/>
<path d="M2058.5 480.6L2090.5 480.6 2090.5 457.6 2058.5 457.6 2058.5 480.6" clip-path="url(#p4823d36514)" style="fill: #c4d5f3; stroke: #c4d5f3; stroke-width: 1.0; stroke-linejoin: round"/>
<path d="M2058.5 457.6L2090.5 457.6 2090.5 434.7 2058.5 434.7 2058.5 457.6" clip-path="url(#p4823d36514)" style="fill: #cedaeb; stroke: #cedaeb; stroke-width: 1.0; stroke-linejoin: round"/>
<path d="M2058.5 434.7L2090.5 434.7 2090.5 411.8 2058.5 411.8 2058.5 434.7" clip-path="url(#p4823d36514)" style="fill: #d8dce2; stroke: #d8dce2; stroke-width: 1.0; stroke-linejoin: round"/>
<path d="M2058.5 411.8L2090.5 411.8 2090.5 388.8 2058.5 388.8 2058.5 411.8" clip-path="url(#p4823d36514)" style="fill: #e1dad6; stroke: #e1dad6; stroke-width: 1.0; stroke-linejoin: round"/>
<path d="M2058.5 388.8L2090.5 388.8 2090.5 365.9 2058.5 365.9 2058.5 388.8" clip-path="url(#p4823d36514)" style="fill: #ead5c9; stroke: #ead5c9; stroke-width: 1.0; stroke-linejoin: round"/>
<path d="M2058.5 365.9L2090.5 365.9 2090.5 342.9 2058.5 342.9 2058.5 365.9" clip-path="url(#p4823d36514)" style="fill: #f0cdbb; stroke: #f0cdbb; stroke-width: 1.0; stroke-linejoin: round"/>
<path d="M2058.5 342.9L2090.5 342.9 2090.5 320 2058.5 320 2058.5 342.9" clip-path="url(#p4823d36514)" style="fill: #f4c5ad; stroke: #f4c5ad; stroke-width: 1.0; stroke-linejoin: round"/>
<path d="M2058.5 320L2090.5 320 2090.5 297 2058.5 297 2058.5 320" clip-path="url(#p4823d36514)" style="fill: #f7b99e; stroke: #f7b99e; stroke-width: 1.0; stroke-linejoin: round"/>
<path d="M2058.5 297L2090.5 297 2090.5 274.1 2058.5 274.1 2058.5 297" clip-path="url(#p4823d36514)" style="fill: #f7ad90; stroke: #f7ad90; stroke-width: 1.0; stroke-linejoin: round"/>
<path d="M2058.5 274.1L2090.5 274.1 2090.5 251.1 2058.5 251.1 2058.5 274.1" clip-path="url(#p4823d36514)" style="fill: #f5a081; stroke: #f5a081; stroke-width: 1.0; stroke-linejoin: round"/>
<path d="M2058.5 251.1L2090.5 251.1 2090.5 228.2 2058.5 228.2 2058.5 251.1" clip-path="url(#p4823d36514)" style="fill: #f29274; stroke: #f29274; stroke-width: 1.0; stroke-linejoin: round"/>
<path d="M2058.5 228.2L2090.5 228.2 2090.5 205.2 2058.5 205.2 2058.5 228.2" clip-path="url(#p4823d36514)" style="fill: #ed8366; stroke: #ed8366; stroke-width: 1.0; stroke-linejoin: round"/>
<path d="M2058.5 205.2L2090.5 205.2 2090.5 182.3 2058.5 182.3 2058.5 205.2" clip-path="url(#p4823d36514)" style="fill: #e67259; stroke: #e67259; stroke-width: 1.0; stroke-linejoin: round"/>
<path d="M2058.5 182.3L2090.5 182.3 2090.5 159.3 2058.5 159.3 2058.5 182.3" clip-path="url(#p4823d36514)" style="fill: #dd5f4b; stroke: #dd5f4b; stroke-width: 1.0; stroke-linejoin: round"/>
<path d="M2058.5 159.3L2090.5 159.3 2090.5 136.4 2058.5 136.4 2058.5 159.3" clip-path="url(#p4823d36514)" style="fill: #d24b40; stroke: #d24b40; stroke-width: 1.0; stroke-linejoin: round"/>
<path d="M2058.5 136.4L2090.5 136.4 2090.5 113.4 2058.5 113.4 2058.5 136.4" clip-path="url(#p4823d36514)" style="fill: #c73635; stroke: #c73635; stroke-width: 1.0; stroke-linejoin: round"/>
<path d="M2058.5 113.4L2090.5 113.4 2090.5 90.5 2058.5 90.5 2058.5 113.4" clip-path="url(#p4823d36514)" style="fill: #ba162b; stroke: #ba162b; stroke-width: 1.0; stroke-linejoin: round"/>
</g>
<g id="matplotlib.axis_3"/>
<g id="matplotlib.axis_4">
<g id="ytick_7">
<g id="line2d_14">

<g>
<path d="M0 0L15 0" transform="translate(2090.5 733)" style="stroke: #000000; stroke-width: 4.4"/>
</g>
</g>
<g id="text_17">
<text style="font-size: 48px; font-family: 'DejaVu Sans'; text-anchor: start" x="2120.3" y="751.23625" transform="rotate(-0 2120.3 751.23625)">0.0</text>
</g>
</g>
<g id="ytick_8">
<g id="line2d_15">
<g>
<path d="M0 0L15 0" transform="translate(2090.5 664.160714)" style="stroke: #000000; stroke-width: 4.4"/>
</g>
</g>
<g id="text_18">
<text style="font-size: 48px; font-family: 'DejaVu Sans'; text-anchor: start" x="2120.3" y="682.396964" transform="rotate(-0 2120.3 682.396964)">0.3</text>
</g>
</g>
<g id="ytick_9">
<g id="line2d_16">
<g>
<path d="M0 0L15 0" transform="translate(2090.5 595.321429)" style="stroke: #000000; stroke-width: 4.4"/>
</g>
</g>
<g id="text_19">
<text style="font-size: 48px; font-family: 'DejaVu Sans'; text-anchor: start" x="2120.3" y="613.557679" transform="rotate(-0 2120.3 613.557679)">0.6</text>
</g>
</g>
<g id="ytick_10">
<g id="line2d_17">
<g>
<path d="M0 0L15 0" transform="translate(2090.5 526.482143)" style="stroke: #000000; stroke-width: 4.4"/>
</g>
</g>
<g id="text_20">
<text style="font-size: 48px; font-family: 'DejaVu Sans'; text-anchor: start" x="2120.3" y="544.718393" transform="rotate(-0 2120.3 544.718393)">0.9</text>
</g>
</g>
<g id="ytick_11">
<g id="line2d_18">
<g>
<path d="M0 0L15 0" transform="translate(2090.5 457.642857)" style="stroke: #000000; stroke-width: 4.4"/>
</g>
</g>
<g id="text_21">
<text style="font-size: 48px; font-family: 'DejaVu Sans'; text-anchor: start" x="2120.3" y="475.879107" transform="rotate(-0 2120.3 475.879107)">1.2</text>
</g>
</g>
<g id="ytick_12">
<g id="line2d_19">
<g>
<path d="M0 0L15 0" transform="translate(2090.5 388.803571)" style="stroke: #000000; stroke-width: 4.4"/>
</g>
</g>
<g id="text_22">
<text style="font-size: 48px; font-family: 'DejaVu Sans'; text-anchor: start" x="2120.3" y="407.039821" transform="rotate(-0 2120.3 407.039821)">1.5</text>
</g>
</g>
<g id="ytick_13">
<g id="line2d_20">
<g>
<path d="M0 0L15 0" transform="translate(2090.5 319.964286)" style="stroke: #000000; stroke-width: 4.4"/>
</g>
</g>
<g id="text_23">
<text style="font-size: 48px; font-family: 'DejaVu Sans'; text-anchor: start" x="2120.3" y="338.200536" transform="rotate(-0 2120.3 338.200536)">1.8</text>
</g>
</g>
<g id="ytick_14">
<g id="line2d_21">
<g>
<path d="M0 0L15 0" transform="translate(2090.5 251.125)" style="stroke: #000000; stroke-width: 4.4"/>
</g>
</g>
<g id="text_24">
<text style="font-size: 48px; font-family: 'DejaVu Sans'; text-anchor: start" x="2120.3" y="269.36125" transform="rotate(-0 2120.3 269.36125)">2.1</text>
</g>
</g>
<g id="ytick_15">
<g id="line2d_22">
<g>
<path d="M0 0L15 0" transform="translate(2090.5 182.285714)" style="stroke: #000000; stroke-width: 4.4"/>
</g>
</g>
<g id="text_25">
<text style="font-size: 48px; font-family: 'DejaVu Sans'; text-anchor: start" x="2120.3" y="200.521964" transform="rotate(-0 2120.3 200.521964)">2.4</text>
</g>
</g>
<g id="ytick_16">
<g id="line2d_23">
<g>
<path d="M0 0L15 0" transform="translate(2090.5 113.446429)" style="stroke: #000000; stroke-width: 4.4"/>
</g>
</g>
<g id="text_26">
<text style="font-size: 48px; font-family: 'DejaVu Sans'; text-anchor: start" x="2120.3" y="131.682679" transform="rotate(-0 2120.3 131.682679)">2.7</text>
</g>
</g>
<g id="text_27">
<text style="font-size: 48px; font-family: 'DejaVu Sans'; text-anchor: middle" x="2250.3075" y="411.75" transform="rotate(-90 2250.3075 411.75)">U [m/s]</text>
</g>
</g>
<g id="LineCollection_1"/>
<g id="patch_9">
<path d="M2058.5 733L2090.5 733 2090.5 90.5 2058.5 90.5 2058.5 733z" style="fill: none; stroke: #000000; stroke-width: 4.4; stroke-linejoin: miter; stroke-linecap: square"/>
</g>
</g>
<g id="axes_3">
<g id="patch_10">
<path d="M242 1637.5L1951.5 1637.5 1951.5 995 242 995z" style="fill: #ffffff"/>
</g>
<g id="QuadContourSet_2">
<path d="M291.8 1633.2L1951.5 1633.2 1951.5 995 242 995 242 1633.2zM276.4 1632.7L253 1632.3 247.8 1631.8 245.1 1630.9 243.9 1629.6 244.4 1624.8 245.6 1618.9 247.2 1614.8 249 1612.6 251.2 1611 258 1608.9 269.3 1607.7 291.8 1607 631.3 1612.3 1058.7 1618.1 1436.3 1624.5 1692.7 1628 1775.2 1629.7 1754.4 1630.9 1721.2 1631.6 1576.3 1632.3 291.8 1632.8z" clip-path="url(#pb13151eed4)" style="fill: #000092; fill-opacity: 0.7; stroke: #000092; stroke-width: 1.0; stroke-linejoin: round; stroke-opacity: 0.7"/>
<path d="M291.8 1632.8L1576.3 1632.3 1721.2 1631.6 1754.4 1630.9 1775.2 1629.7 1692.7 1628 1436.3 1624.5 1058.7 1618.1 631.3 1612.3 291.8 1607 269.3 1607.7 258 1608.9 251.2 1611 249 1612.6 247.2 1614.8 245.6 1618.9 244.4 1624.8 243.9 1629.6 245.1 1630.9 247.8 1631.8 253 1632.3 276.4 1632.7zM282.2 1632.6L257.1 1632.1 248.3 1630.9 245.9 1629.6 248 1621.4 249.8 1617.9 252.1 1615.1 255.2 1613 259.1 1611.4 271.3 1609.2 291.8 1607.9 631.3 1613.1 1051.6 1618.9 1379.3 1624.4 1738.1 1629.7 1652.3 1631.3 1467.1 1632.1 291.8 1632.6z" clip-path="url(#pb13151eed4)" style="fill: #0000bf; fill-opacity: 0.7; stroke: #0000bf; stroke-width: 1.0; stroke-linejoin: round; stroke-opacity: 0.7"/>
<path d="M291.8 1632.6L1467.1 1632.1 1652.3 1631.3 1738.1 1629.7 1379.3 1624.4 1051.6 1618.9 631.3 1613.1 291.8 1607.9 271.3 1609.2 259.1 1611.4 255.2 1613 252.1 1615.1 249.8 1617.9 248 1621.4 245.9 1629.6 248.3 1630.9 257.1 1632.1 282.2 1632.6zM284.6 1632.5L264.7 1632.1 253.7 1631.3 248 1629.7 248.5 1627.3 250.3 1622.6 252.7 1618.9 255.8 1616 259.8 1613.8 265.4 1612 272.1 1610.6 291.8 1608.8 629 1614 1046.9 1619.7 1695.9 1629.7 1585.8 1631.1 1379.3 1631.8 291.8 1632.5z" clip-path="url(#pb13151eed4)" style="fill: #0000ed; fill-opacity: 0.7; stroke: #0000ed; stroke-width: 1.0; stroke-linejoin: round; stroke-opacity: 0.7"/>
<path d="M291.8 1632.5L1379.3 1631.8 1585.8 1631.1 1695.9 1629.7 1046.9 1619.7 629 1614 291.8 1608.8 272.1 1610.6 265.4 1612 259.8 1613.8 255.8 1616 252.7 1618.9 250.3 1622.6 248.5 1627.3 248 1629.7 253.7 1631.3 264.7 1632.1 284.6 1632.5zM286 1632.3L260.6 1631.5 253.8 1630.7 249.8 1629.6 251.8 1624.7 254.4 1620.9 257.5 1617.9 261.7 1615.4 266.6 1613.5 273.1 1612 291.8 1609.8 1044.5 1620.5 1649.9 1629.7 1524.1 1630.9 1303.3 1631.7 291.8 1632.4z" clip-path="url(#pb13151eed4)" style="fill: #0008ff; fill-opacity: 0.7; stroke: #0008ff; stroke-width: 1.0; stroke-linejoin: round; stroke-opacity: 0.7"/>
<path d="M291.8 1632.4L1303.3 1631.7 1524.1 1630.9 1649.9 1629.7 1044.5 1620.5 291.8 1609.8 273.1 1612 266.6 1613.5 261.7 1615.4 257.5 1617.9 254.4 1620.9 251.8 1624.7 249.8 1629.6 253.8 1630.7 260.6 1631.5 286 1632.3zM286.8 1632.2L263.2 1631.4 255.9 1630.6 251.7 1629.6 254 1625.2 256.7 1621.7 260 1618.8 264.1 1616.4 268.9 1614.6 275 1613 291.8 1610.7 1011.2 1620.8 1600.9 1629.7 1460 1630.8 1232.1 1631.5 291.8 1632.3z" clip-path="url(#pb13151eed4)" style="fill: #0030ff; fill-opacity: 0.7; stroke: #0030ff; stroke-width: 1.0; stroke-linejoin: round; stroke-opacity: 0.7"/>
<path d="M291.8 1632.3L1232.1 1631.5 1460 1630.8 1600.9 1629.7 1011.2 1620.8 291.8 1610.7 275 1613 268.9 1614.6 264.1 1616.4 260 1618.8 256.7 1621.7 254 1625.2 251.7 1629.6 255.9 1630.6 263.2 1631.4 286.8 1632.2zM287.4 1632.1L265.4 1631.3 257.8 1630.5 253.7 1629.6 256 1625.8 258.8 1622.5 262.2 1619.7 266.1 1617.5 276.4 1614.1 291.8 1611.6 1551.1 1629.6 1422 1630.6 1186.9 1631.3 291.8 1632.1z" clip-path="url(#pb13151eed4)" style="fill: #0058ff; fill-opacity: 0.7; stroke: #0058ff; stroke-width: 1.0; stroke-linejoin: round; stroke-opacity: 0.7"/>
<path d="M291.8 1632.1L1186.9 1631.3 1422 1630.6 1551.1 1629.6 291.8 1611.6 276.4 1614.1 266.1 1617.5 262.2 1619.7 258.8 1622.5 256 1625.8 253.7 1629.6 257.8 1630.5 265.4 1631.3 287.4 1632.1zM287.8 1631.9L267.3 1631.1 255.6 1629.6 258 1626.1 260.8 1623.1 264 1620.6 268 1618.4 278 1615 291.8 1612.5 1498.7 1629.6 1365 1630.5 1127.6 1631.2 291.8 1632z" clip-path="url(#pb13151eed4)" style="fill: #0080ff; fill-opacity: 0.7; stroke: #0080ff; stroke-width: 1.0; stroke-linejoin: round; stroke-opacity: 0.7"/>
<path d="M291.8 1632L1127.6 1631.2 1365 1630.5 1498.7 1629.6 291.8 1612.5 278 1615 268 1618.4 264 1620.6 260.8 1623.1 258 1626.1 255.6 1629.6 267.3 1631.1 287.8 1631.9zM288.1 1631.8L268.9 1631 257.6 1629.6 262.8 1623.7 269.9 1619.2 279.3 1615.9 291.8 1613.4 1444.4 1629.6 1073 1631.1 291.8 1631.9z" clip-path="url(#pb13151eed4)" style="fill: #00a4ff; fill-opacity: 0.7; stroke: #00a4ff; stroke-width: 1.0; stroke-linejoin: round; stroke-opacity: 0.7"/>
<path d="M291.8 1631.9L1073 1631.1 1444.4 1629.6 291.8 1613.4 279.3 1615.9 269.9 1619.2 262.8 1623.7 257.6 1629.6 268.9 1631 288.1 1631.8zM288.4 1631.7L270.3 1630.9 259.5 1629.6 264.8 1624.2 271.7 1620 280.4 1616.8 291.8 1614.4 1388.5 1629.6 1020.7 1631 291.8 1631.8z" clip-path="url(#pb13151eed4)" style="fill: #00ccff; fill-opacity: 0.7; stroke: #00ccff; stroke-width: 1.0; stroke-linejoin: round; stroke-opacity: 0.7"/>
<path d="M291.8 1631.8L1020.7 1631 1388.5 1629.6 291.8 1614.4 280.4 1616.8 271.7 1620 264.8 1624.2 259.5 1629.6 270.3 1630.9 288.4 1631.7zM288.6 1631.5L271.5 1630.7 261.5 1629.6 266.6 1624.7 273.2 1620.8 281.3 1617.7 291.8 1615.3 1331 1629.6 970.9 1630.8 291.8 1631.6z" clip-path="url(#pb13151eed4)" style="fill: #0cf4eb; fill-opacity: 0.7; stroke: #0cf4eb; stroke-width: 1.0; stroke-linejoin: round; stroke-opacity: 0.7"/>
<path d="M291.8 1631.6L970.9 1630.8 1331 1629.6 291.8 1615.3 281.3 1617.7 273.2 1620.8 266.6 1624.7 261.5 1629.6 271.5 1630.7 288.6 1631.5zM288.7 1631.4L272.6 1630.6 263.4 1629.6 268.5 1625.1 274.6 1621.5 282.5 1618.5 291.8 1616.2 1272.1 1629.6 923.4 1630.7 291.8 1631.5z" clip-path="url(#pb13151eed4)" style="fill: #2cffca; fill-opacity: 0.7; stroke: #2cffca; stroke-width: 1.0; stroke-linejoin: round; stroke-opacity: 0.7"/>
<path d="M291.8 1631.5L923.4 1630.7 1272.1 1629.6 291.8 1616.2 282.5 1618.5 274.6 1621.5 268.5 1625.1 263.4 1629.6 272.6 1630.6 288.7 1631.4zM288.9 1631.3L273.6 1630.5 265.4 1629.6 270.3 1625.5 276.1 1622.2 283.1 1619.4 291.8 1617.1 1211.8 1629.6 875.9 1630.6 291.8 1631.4z" clip-path="url(#pb13151eed4)" style="fill: #4dffaa; fill-opacity: 0.7; stroke: #4dffaa; stroke-width: 1.0; stroke-linejoin: round; stroke-opacity: 0.7"/>
<path d="M291.8 1631.4L875.9 1630.6 1211.8 1629.6 291.8 1617.1 283.1 1619.4 276.1 1622.2 270.3 1625.5 265.4 1629.6 273.6 1630.5 288.9 1631.3zM289 1631.1L267.3 1629.6 272 1625.9 277.5 1622.9 284 1620.2 291.8 1618 1150.2 1629.6 830.8 1630.5 291.8 1631.2z" clip-path="url(#pb13151eed4)" style="fill: #6dff8a; fill-opacity: 0.7; stroke: #6dff8a; stroke-width: 1.0; stroke-linejoin: round; stroke-opacity: 0.7"/>
<path d="M291.8 1631.2L830.8 1630.5 1150.2 1629.6 291.8 1618 284 1620.2 277.5 1622.9 272 1625.9 267.3 1629.6 289 1631.1zM289.1 1631L269.3 1629.6 273.7 1626.3 278.7 1623.5 284.9 1621 291.8 1618.9 1087.4 1629.6 291.8 1631.1z" clip-path="url(#pb13151eed4)" style="fill: #8aff6d; fill-opacity: 0.7; stroke: #8aff6d; stroke-width: 1.0; stroke-linejoin: round; stroke-opacity: 0.7"/>
<path d="M291.8 1631.1L1087.4 1629.6 291.8 1618.9 284.9 1621 278.7 1623.5 273.7 1626.3 269.3 1629.6 289.1 1631zM289.2 1630.9L271.2 1629.6 275.3 1626.7 280.2 1624 291.8 1619.9 1023.5 1629.6 291.8 1631z" clip-path="url(#pb13151eed4)" style="fill: #aaff4d; fill-opacity: 0.7; stroke: #aaff4d; stroke-width: 1.0; stroke-linejoin: round; stroke-opacity: 0.7"/>
<path d="M291.8 1631L1023.5 1629.6 291.8 1619.9 280.2 1624 275.3 1626.7 271.2 1629.6 289.2 1630.9zM289.3 1630.7L273.2 1629.6 281.3 1624.7 291.8 1620.8 958.4 1629.6 291.8 1630.9z" clip-path="url(#pb13151eed4)" style="fill: #caff2c; fill-opacity: 0.7; stroke: #caff2c; stroke-width: 1.0; stroke-linejoin: round; stroke-opacity: 0.7"/>
<path d="M291.8 1630.9L958.4 1629.6 291.8 1620.8 281.3 1624.7 273.2 1629.6 289.3 1630.7zM289.3 1630.6L275.1 1629.6 282.6 1625.2 291.8 1621.7 892.3 1629.6 291.8 1630.7z" clip-path="url(#pb13151eed4)" style="fill: #ebff0c; fill-opacity: 0.7; stroke: #ebff0c; stroke-width: 1.0; stroke-linejoin: round; stroke-opacity: 0.7"/>
<path d="M291.8 1630.7L892.3 1629.6 291.8 1621.7 282.6 1625.2 275.1 1629.6 289.3 1630.6zM289.4 1630.5L277.1 1629.6 283.9 1625.8 291.8 1622.6 825.2 1629.6 291.8 1630.6z" clip-path="url(#pb13151eed4)" style="fill: #ffde00; fill-opacity: 0.7; stroke: #ffde00; stroke-width: 1.0; stroke-linejoin: round; stroke-opacity: 0.7"/>
<path d="M291.8 1630.6L825.2 1629.6 291.8 1622.6 283.9 1625.8 277.1 1629.6 289.4 1630.5zM289.4 1630.4L279 1629.6 285.1 1626.3 291.8 1623.5 757.2 1629.6 291.8 1630.5z" clip-path="url(#pb13151eed4)" style="fill: #ffb900; fill-opacity: 0.7; stroke: #ffb900; stroke-width: 1.0; stroke-linejoin: round; stroke-opacity: 0.7"/>
<path d="M291.8 1630.5L757.2 1629.6 291.8 1623.5 285.1 1626.3 279 1629.6 289.4 1630.4zM289.5 1630.2L281 1629.6 291.8 1624.5 688.3 1629.6 291.8 1630.3z" clip-path="url(#pb13151eed4)" style="fill: #ff9400; fill-opacity: 0.7; stroke: #ff9400; stroke-width: 1.0; stroke-linejoin: round; stroke-opacity: 0.7"/>
<path d="M291.8 1630.3L688.3 1629.6 291.8 1624.5 281 1629.6 289.5 1630.2zM289.5 1630.1L282.9 1629.6 291.8 1625.4 618.5 1629.6 291.8 1630.2z" clip-path="url(#pb13151eed4)" style="fill: #ff7300; fill-opacity: 0.7; stroke: #ff7300; stroke-width: 1.0; stroke-linejoin: round; stroke-opacity: 0.7"/>
<path d="M291.8 1630.2L618.5 1629.6 291.8 1625.4 282.9 1629.6 289.5 1630.1zM289.6 1630L284.9 1629.6 291.8 1626.3 548 1629.6 291.8 1630.1z" clip-path="url(#pb13151eed4)" style="fill: #ff4e00; fill-opacity: 0.7; stroke: #ff4e00; stroke-width: 1.0; stroke-linejoin: round; stroke-opacity: 0.7"/>
<path d="M291.8 1630.1L548 1629.6 291.8 1626.3 284.9 1629.6 289.6 1630zM291.7 1630L286.8 1629.6 291.8 1627.2 476.6 1629.6 291.8 1630z" clip-path="url(#pb13151eed4)" style="fill: #ff2900; fill-opacity: 0.7; stroke: #ff2900; stroke-width: 1.0; stroke-linejoin: round; stroke-opacity: 0.7"/>
<path d="M291.8 1630L476.6 1629.6 291.8 1627.2 286.8 1629.6 291.7 1630zM291.7 1629.8L288.8 1629.6 291.8 1628.1 404.5 1629.6 291.8 1629.8z" clip-path="url(#pb13151eed4)" style="fill: #ed0400; fill-opacity: 0.7; stroke: #ed0400; stroke-width: 1.0; stroke-linejoin: round; stroke-opacity: 0.7"/>
<path d="M291.8 1629.8L404.5 1629.6 291.8 1628.1 288.8 1629.6 291.7 1629.8zM291.6 1629.7L290.7 1629.6 291.8 1629.1 331.6 1629.6 291.8 1629.7z" clip-path="url(#pb13151eed4)" style="fill: #bf0000; fill-opacity: 0.7; stroke: #bf0000; stroke-width: 1.0; stroke-linejoin: round; stroke-opacity: 0.7"/>
<path d="M291.8 1629.7L331.6 1629.6 291.8 1629.1 290.7 1629.6 291.6 1629.7z" clip-path="url(#pb13151eed4)" style="fill: #920000; fill-opacity: 0.7; stroke: #920000; stroke-width: 1.0; stroke-linejoin: round; stroke-opacity: 0.7"/>
</g>
<g id="matplotlib.axis_5">
<g id="xtick_8">
<g id="line2d_24">
<g>
<path d="M0 0L0 15" transform="translate(291.791262 1637.5)" style="stroke: #000000; stroke-width: 4.4"/>
</g>
</g>
<g id="text_28">
<text style="font-size: 48px; font-family: 'DejaVu Sans'; text-anchor: middle" x="291.791262" y="1702.9725" transform="rotate(-0 291.791262 1702.9725)">0.0</text>
</g>
</g>
<g id="xtick_9">
<g id="line2d_25">
<g>
<path d="M0 0L0 15" transform="translate(623.73301 1637.5)" style="stroke: #000000; stroke-width: 4.4"/>
</g>
</g>
<g id="text_29">
<text style="font-size: 48px; font-family: 'DejaVu Sans'; text-anchor: middle" x="623.73301" y="1702.9725" transform="rotate(-0 623.73301 1702.9725)">0.2</text>
</g>
</g>
<g id="xtick_10">
<g id="line2d_26">
<g>
<path d="M0 0L0 15" transform="translate(955.674757 1637.5)" style="stroke: #000000; stroke-width: 4.4"/>
</g>
</g>
<g id="text_30">
<text style="font-size: 48px; font-family: 'DejaVu Sans'; text-anchor: middle" x="955.674757" y="1702.9725" transform="rotate(-0 955.674757 1702.9725)">0.4</text>
</g>
</g>
<g id="xtick_11">
<g id="line2d_27">
<g>
<path d="M0 0L0 15" transform="translate(1287.616505 1637.5)" style="stroke: #000000; stroke-width: 4.4"/>
</g>
</g>
<g id="text_31">
<text style="font-size: 48px; font-family: 'DejaVu Sans'; text-anchor: middle" x="1287.616505" y="1702.9725" transform="rotate(-0 1287.616505 1702.9725)">0.6</text>
</g>
</g>
<g id="xtick_12">
<g id="line2d_28">
<g>
<path d="M0 0L0 15" transform="translate(1619.558252 1637.5)" style="stroke: #000000; stroke-width: 4.4"/>
</g>
</g>
<g id="text_32">
<text style="font-size: 48px; font-family: 'DejaVu Sans'; text-anchor: middle" x="1619.558252" y="1702.9725" transform="rotate(-0 1619.558252 1702.9725)">0.8</text>
</g>
</g>
<g id="xtick_13">
<g id="line2d_29">
<g>
<path d="M0 0L0 15" transform="translate(1951.5 1637.5)" style="stroke: #000000; stroke-width: 4.4"/>
</g>
</g>
<g id="text_33">
<text style="font-size: 48px; font-family: 'DejaVu Sans'; text-anchor: middle" x="1951.5" y="1702.9725" transform="rotate(-0 1951.5 1702.9725)">1.0</text>
</g>
</g>
<g id="text_34">
<text style="font-size: 48px; font-family: 'DejaVu Sans'; text-anchor: middle" x="1096.75" y="1766.9275" transform="rotate(-0 1096.75 1766.9275)">x [m]</text>
</g>
</g>
<g id="matplotlib.axis_6">
<g id="ytick_17">
<g id="line2d_30">
<g>
<path d="M0 0L-15 0" transform="translate(242 1633.245033)" style="stroke: #000000; stroke-width: 4.4"/>
</g>
</g>
<g id="text_35">
<text style="font-size: 48px; font-family: 'DejaVu Sans'; text-anchor: end" x="212.2" y="1651.481283" transform="rotate(-0 212.2 1651.481283)">0.0</text>
</g>
</g>
<g id="ytick_18">
<g id="line2d_31">
<g>
<path d="M0 0L-15 0" transform="translate(242 1420.496689)" style="stroke: #000000; stroke-width: 4.4"/>
</g>
</g>
<g id="text_36">
<text style="font-size: 48px; font-family: 'DejaVu Sans'; text-anchor: end" x="212.2" y="1438.732939" transform="rotate(-0 212.2 1438.732939)">0.5</text>
</g>
</g>
<g id="ytick_19">
<g id="line2d_32">
<g>
<path d="M0 0L-15 0" transform="translate(242 1207.748344)" style="stroke: #000000; stroke-width: 4.4"/>
</g>
</g>
<g id="text_37">
<text style="font-size: 48px; font-family: 'DejaVu Sans'; text-anchor: end" x="212.2" y="1225.984594" transform="rotate(-0 212.2 1225.984594)">1.0</text>
</g>
</g>
<g id="ytick_20">
<g id="line2d_33">
<g>
<path d="M0 0L-15 0" transform="translate(242 995)" style="stroke: #000000; stroke-width: 4.4"/>
</g>
</g>
<g id="text_38">
<text style="font-size: 48px; font-family: 'DejaVu Sans'; text-anchor: end" x="212.2" y="1013.23625" transform="rotate(-0 212.2 1013.23625)">1.5</text>
</g>
</g>
<g id="text_39">
<text style="font-size: 48px; font-family: 'DejaVu Sans'; text-anchor: middle" x="110.3825" y="1316.25" transform="rotate(-90 110.3825 1316.25)">y [m]</text>
</g>
</g>
<g id="patch_11">
<path d="M242 1637.5L242 995" style="fill: none; stroke: #000000; stroke-width: 4.4; stroke-linejoin: miter; stroke-linecap: square"/>
</g>
<g id="patch_12">
<path d="M1951.5 1637.5L1951.5 995" style="fill: none; stroke: #000000; stroke-width: 4.4; stroke-linejoin: miter; stroke-linecap: square"/>
</g>
<g id="patch_13">
<path d="M242 1637.5L1951.5 1637.5" style="fill: none; stroke: #000000; stroke-width: 4.4; stroke-linejoin: miter; stroke-linecap: square"/>
</g>
<g id="patch_14">
<path d="M242 995L1951.5 995" style="fill: none; stroke: #000000; stroke-width: 4.4; stroke-linejoin: miter; stroke-linecap: square"/>
</g>
<g id="text_40">
<text style="font-size: 57.6px; font-family: 'DejaVu Sans'; text-anchor: middle" x="1096.75" y="969" transform="rotate(-0 1096.75 969)">Force</text>
</g>
<g id="patch_15">
<path d="M242 1633.2L291.8 1633.2 291.8 1607.7 242 1607.7z" clip-path="url(#pb13151eed4)" style="stroke: #000000; stroke-width: 6; stroke-linejoin: miter"/>
</g>
<g id="line2d_34">
<path d="M291.8 1633.2L1951.5 1633.2" style="fill: none; stroke: #000000; stroke-width: 6"/>
</g>
</g>
<g id="axes_4">
<g id="patch_16">
<path d="M2058.5 1637.5L2090.5 1637.5 2090.5 995 2058.5 995z" style="fill: #ffffff"/>
</g>
<g id="QuadMesh_2">
<path d="M2058.5 1637.5L2090.5 1637.5 2090.5 1612.8 2058.5 1612.8 2058.5 1637.5" clip-path="url(#pdc0b831498)" style="fill: #000092; fill-opacity: 0.7; stroke: #000092; stroke-width: 1.0; stroke-linejoin: round; stroke-opacity: 0.7"/>
<path d="M2058.5 1612.8L2090.5 1612.8 2090.5 1588.1 2058.5 1588.1 2058.5 1612.8" clip-path="url(#pdc0b831498)" style="fill: #0000bf; fill-opacity: 0.7; stroke: #0000bf; stroke-width: 1.0; stroke-linejoin: round; stroke-opacity: 0.7"/>
<path d="M2058.5 1588.1L2090.5 1588.1 2090.5 1563.4 2058.5 1563.4 2058.5 1588.1" clip-path="url(#pdc0b831498)" style="fill: #0000ed; fill-opacity: 0.7; stroke: #0000ed; stroke-width: 1.0; stroke-linejoin: round; stroke-opacity: 0.7"/>
<path d="M2058.5 1563.4L2090.5 1563.4 2090.5 1538.7 2058.5 1538.7 2058.5 1563.4" clip-path="url(#pdc0b831498)" style="fill: #0008ff; fill-opacity: 0.7; stroke: #0008ff; stroke-width: 1.0; stroke-linejoin: round; stroke-opacity: 0.7"/>
<path d="M2058.5 1538.7L2090.5 1538.7 2090.5 1513.9 2058.5 1513.9 2058.5 1538.7" clip-path="url(#pdc0b831498)" style="fill: #0030ff; fill-opacity: 0.7; stroke: #0030ff; stroke-width: 1.0; stroke-linejoin: round; stroke-opacity: 0.7"/>
<path d="M2058.5 1513.9L2090.5 1513.9 2090.5 1489.2 2058.5 1489.2 2058.5 1513.9" clip-path="url(#pdc0b831498)" style="fill: #0058ff; fill-opacity: 0.7; stroke: #0058ff; stroke-width: 1.0; stroke-linejoin: round; stroke-opacity: 0.7"/>
<path d="M2058.5 1489.2L2090.5 1489.2 2090.5 1464.5 2058.5 1464.5 2058.5 1489.2" clip-path="url(#pdc0b831498)" style="fill: #0080ff; fill-opacity: 0.7; stroke: #0080ff; stroke-width: 1.0; stroke-linejoin: round; stroke-opacity: 0.7"/>
<path d="M2058.5 1464.5L2090.5 1464.5 2090.5 1439.8 2058.5 1439.8 2058.5 1464.5" clip-path="url(#pdc0b831498)" style="fill: #00a4ff; fill-opacity: 0.7; stroke: #00a4ff; stroke-width: 1.0; stroke-linejoin: round; stroke-opacity: 0.7"/>
<path d="M2058.5 1439.8L2090.5 1439.8 2090.5 1415.1 2058.5 1415.1 2058.5 1439.8" clip-path="url(#pdc0b831498)" style="fill: #00ccff; fill-opacity: 0.7; stroke: #00ccff; stroke-width: 1.0; stroke-linejoin: round; stroke-opacity: 0.7"/>
<path d="M2058.5 1415.1L2090.5 1415.1 2090.5 1390.4 2058.5 1390.4 2058.5 1415.1" clip-path="url(#pdc0b831498)" style="fill: #0cf4eb; fill-opacity: 0.7; stroke: #0cf4eb; stroke-width: 1.0; stroke-linejoin: round; stroke-opacity: 0.7"/>
<path d="M2058.5 1390.4L2090.5 1390.4 2090.5 1365.7 2058.5 1365.7 2058.5 1390.4" clip-path="url(#pdc0b831498)" style="fill: #2cffca; fill-opacity: 0.7; stroke: #2cffca; stroke-width: 1.0; stroke-linejoin: round; stroke-opacity: 0.7"/>
<path d="M2058.5 1365.7L2090.5 1365.7 2090.5 1341 2058.5 1341 2058.5 1365.7" clip-path="url(#pdc0b831498)" style="fill: #4dffaa; fill-opacity: 0.7; stroke: #4dffaa; stroke-width: 1.0; stroke-linejoin: round; stroke-opacity: 0.7"/>
<path d="M2058.5 1341L2090.5 1341 2090.5 1316.2 2058.5 1316.2 2058.5 1341" clip-path="url(#pdc0b831498)" style="fill: #6dff8a; fill-opacity: 0.7; stroke: #6dff8a; stroke-width: 1.0; stroke-linejoin: round; stroke-opacity: 0.7"/>
<path d="M2058.5 1316.2L2090.5 1316.2 2090.5 1291.5 2058.5 1291.5 2058.5 1316.2" clip-path="url(#pdc0b831498)" style="fill: #8aff6d; fill-opacity: 0.7; stroke: #8aff6d; stroke-width: 1.0; stroke-linejoin: round; stroke-opacity: 0.7"/>
<path d="M2058.5 1291.5L2090.5 1291.5 2090.5 1266.8 2058.5 1266.8 2058.5 1291.5" clip-path="url(#pdc0b831498)" style="fill: #aaff4d; fill-opacity: 0.7; stroke: #aaff4d; stroke-width: 1.0; stroke-linejoin: round; stroke-opacity: 0.7"/>
<path d="M2058.5 1266.8L2090.5 1266.8 2090.5 1242.1 2058.5 1242.1 2058.5 1266.8" clip-path="url(#pdc0b831498)" style="fill: #caff2c; fill-opacity: 0.7; stroke: #caff2c; stroke-width: 1.0; stroke-linejoin: round; stroke-opacity: 0.7"/>
<path d="M2058.5 1242.1L2090.5 1242.1 2090.5 1217.4 2058.5 1217.4 2058.5 1242.1" clip-path="url(#pdc0b831498)" style="fill: #ebff0c; fill-opacity: 0.7; stroke: #ebff0c; stroke-width: 1.0; stroke-linejoin: round; stroke-opacity: 0.7"/>
<path d="M2058.5 1217.4L2090.5 1217.4 2090.5 1192.7 2058.5 1192.7 2058.5 1217.4" clip-path="url(#pdc0b831498)" style="fill: #ffde00; fill-opacity: 0.7; stroke: #ffde00; stroke-width: 1.0; stroke-linejoin: round; stroke-opacity: 0.7"/>
<path d="M2058.5 1192.7L2090.5 1192.7 2090.5 1168 2058.5 1168 2058.5 1192.7" clip-path="url(#pdc0b831498)" style="fill: #ffb900; fill-opacity: 0.7; stroke: #ffb900; stroke-width: 1.0; stroke-linejoin: round; stroke-opacity: 0.7"/>
<path d="M2058.5 1168L2090.5 1168 2090.5 1143.3 2058.5 1143.3 2058.5 1168" clip-path="url(#pdc0b831498)" style="fill: #ff9400; fill-opacity: 0.7; stroke: #ff9400; stroke-width: 1.0; stroke-linejoin: round; stroke-opacity: 0.7"/>
<path d="M2058.5 1143.3L2090.5 1143.3 2090.5 1118.6 2058.5 1118.6 2058.5 1143.3" clip-path="url(#pdc0b831498)" style="fill: #ff7300; fill-opacity: 0.7; stroke: #ff7300; stroke-width: 1.0; stroke-linejoin: round; stroke-opacity: 0.7"/>
<path d="M2058.5 1118.6L2090.5 1118.6 2090.5 1093.8 2058.5 1093.8 2058.5 1118.6" clip-path="url(#pdc0b831498)" style="fill: #ff4e00; fill-opacity: 0.7; stroke: #ff4e00; stroke-width: 1.0; stroke-linejoin: round; stroke-opacity: 0.7"/>
<path d="M2058.5 1093.8L2090.5 1093.8 2090.5 1069.1 2058.5 1069.1 2058.5 1093.8" clip-path="url(#pdc0b831498)" style="fill: #ff2900; fill-opacity: 0.7; stroke: #ff2900; stroke-width: 1.0; stroke-linejoin: round; stroke-opacity: 0.7"/>
<path d="M2058.5 1069.1L2090.5 1069.1 2090.5 1044.4 2058.5 1044.4 2058.5 1069.1" clip-path="url(#pdc0b831498)" style="fill: #ed0400; fill-opacity: 0.7; stroke: #ed0400; stroke-width: 1.0; stroke-linejoin: round; stroke-opacity: 0.7"/>
<path d="M2058.5 1044.4L2090.5 1044.4 2090.5 1019.7 2058.5 1019.7 2058.5 1044.4" clip-path="url(#pdc0b831498)" style="fill: #bf0000; fill-opacity: 0.7; stroke: #bf0000; stroke-width: 1.0; stroke-linejoin: round; stroke-opacity: 0.7"/>
<path d="M2058.5 1019.7L2090.5 1019.7 2090.5 995 2058.5 995 2058.5 1019.7" clip-path="url(#pdc0b831498)" style="fill: #920000; fill-opacity: 0.7; stroke: #920000; stroke-width: 1.0; stroke-linejoin: round; stroke-opacity: 0.7"/>
</g>
<g id="matplotlib.axis_7"/>
<g id="matplotlib.axis_8">
<g id="ytick_21">
<g id="line2d_35">
<g>
<path d="M0 0L15 0" transform="translate(2090.5 1637.5)" style="stroke: #000000; stroke-width: 4.4"/>
</g>
</g>
<g id="text_41">
<text style="font-size: 48px; font-family: 'DejaVu Sans'; text-anchor: start" x="2120.3" y="1655.73625" transform="rotate(-0 2120.3 1655.73625)">0</text>
</g>
</g>
<g id="ytick_22">
<g id="line2d_36">
<g>
<path d="M0 0L15 0" transform="translate(2090.5 1563.365385)" style="stroke: #000000; stroke-width: 4.4"/>
</g>
</g>
<g id="text_42">
<text style="font-size: 48px; font-family: 'DejaVu Sans'; text-anchor: start" x="2120.3" y="1581.601635" transform="rotate(-0 2120.3 1581.601635)">12000</text>
</g>
</g>
<g id="ytick_23">
<g id="line2d_37">
<g>
<path d="M0 0L15 0" transform="translate(2090.5 1489.230769)" style="stroke: #000000; stroke-width: 4.4"/>
</g>
</g>
<g id="text_43">
<text style="font-size: 48px; font-family: 'DejaVu Sans'; text-anchor: start" x="2120.3" y="1507.467019" transform="rotate(-0 2120.3 1507.467019)">24000</text>
</g>
</g>
<g id="ytick_24">
<g id="line2d_38">
<g>
<path d="M0 0L15 0" transform="translate(2090.5 1415.096154)" style="stroke: #000000; stroke-width: 4.4"/>
</g>
</g>
<g id="text_44">
<text style="font-size: 48px; font-family: 'DejaVu Sans'; text-anchor: start" x="2120.3" y="1433.332404" transform="rotate(-0 2120.3 1433.332404)">36000</text>
</g>
</g>
<g id="ytick_25">
<g id="line2d_39">
<g>
<path d="M0 0L15 0" transform="translate(2090.5 1340.961538)" style="stroke: #000000; stroke-width: 4.4"/>
</g>
</g>
<g id="text_45">
<text style="font-size: 48px; font-family: 'DejaVu Sans'; text-anchor: start" x="2120.3" y="1359.197788" transform="rotate(-0 2120.3 1359.197788)">48000</text>
</g>
</g>
<g id="ytick_26">
<g id="line2d_40">
<g>
<path d="M0 0L15 0" transform="translate(2090.5 1266.826923)" style="stroke: #000000; stroke-width: 4.4"/>
</g>
</g>
<g id="text_46">
<text style="font-size: 48px; font-family: 'DejaVu Sans'; text-anchor: start" x="2120.3" y="1285.063173" transform="rotate(-0 2120.3 1285.063173)">60000</text>
</g>
</g>
<g id="ytick_27">
<g id="line2d_41">
<g>
<path d="M0 0L15 0" transform="translate(2090.5 1192.692308)" style="stroke: #000000; stroke-width: 4.4"/>
</g>
</g>
<g id="text_47">
<text style="font-size: 48px; font-family: 'DejaVu Sans'; text-anchor: start" x="2120.3" y="1210.928558" transform="rotate(-0 2120.3 1210.928558)">72000</text>
</g>
</g>
<g id="ytick_28">
<g id="line2d_42">
<g>
<path d="M0 0L15 0" transform="translate(2090.5 1118.557692)" style="stroke: #000000; stroke-width: 4.4"/>
</g>
</g>
<g id="text_48">
<text style="font-size: 48px; font-family: 'DejaVu Sans'; text-anchor: start" x="2120.3" y="1136.793942" transform="rotate(-0 2120.3 1136.793942)">84000</text>
</g>
</g>
<g id="ytick_29">
<g id="line2d_43">
<g>
<path d="M0 0L15 0" transform="translate(2090.5 1044.423077)" style="stroke: #000000; stroke-width: 4.4"/>
</g>
</g>
<g id="text_49">
<text style="font-size: 48px; font-family: 'DejaVu Sans'; text-anchor: start" x="2120.3" y="1062.659327" transform="rotate(-0 2120.3 1062.659327)">96000</text>
</g>
</g>
<g id="text_50">
<!-- F [N/m$^3$] -->
<g transform="translate(2328.9175 1417.53) rotate(-90)">
<text>
<tspan x="0" y="-0.6875" style="font-size: 48px; font-family: 'DejaVu Sans'">F</tspan>
<tspan x="27.609375" y="-0.6875" style="font-size: 48px; font-family: 'DejaVu Sans'"> </tspan>
<tspan x="42.867188" y="-0.6875" style="font-size: 48px; font-family: 'DejaVu Sans'">[</tspan>
<tspan x="61.59375" y="-0.6875" style="font-size: 48px; font-family: 'DejaVu Sans'">N</tspan>
<tspan x="97.5" y="-0.6875" style="font-size: 48px; font-family: 'DejaVu Sans'">/</tspan>
<tspan x="113.671875" y="-0.6875" style="font-size: 48px; font-family: 'DejaVu Sans'">m</tspan>
<tspan x="183.578906" y="-0.6875" style="font-size: 48px; font-family: 'DejaVu Sans'">]</tspan>
<tspan x="160.889062" y="-19.0625" style="font-size: 33.6px; font-family: 'DejaVu Sans'">3</tspan>
</text>
</g>
</g>
</g>
<g id="LineCollection_2"/>
<g id="patch_17">
<path d="M2058.5 1637.5L2090.5 1637.5 2090.5 995 2058.5 995 2058.5 1637.5z" style="fill: none; stroke: #000000; stroke-width: 4.4; stroke-linejoin: miter; stroke-linecap: square"/>
</g>
</g>
<g id="axes_5">
<g id="patch_18">
<path d="M1062.5 1380.3L1866 1380.3 1866 1078.5 1062.5 1078.5z" style="fill: #ffffff"/>
</g>
<g id="QuadContourSet_3">
<path d="M1085.9 1361.4L1866 1361.4 1866 1078.5 1062.5 1078.5 1062.5 1361.4zM1078.7 1359.1L1072 1358.5 1067.7 1357.4 1065.2 1355 1064 1351 1063.4 1345.1 1063.6 1324.1 1065 1279.9 1066.8 1263 1068.2 1257.7 1070 1253.7 1072.3 1250.7 1075.3 1248.4 1079.3 1246.7 1085.9 1245.1 1245.5 1268.4 1369.4 1284 1446.4 1294.5 1485.4 1300.4 1563.6 1313.6 1623.8 1322.9 1672.9 1329.7 1744.4 1338.3 1755.5 1340.3 1777.8 1345.5 1783.1 1345.7 1779 1348.6 1773.4 1350.9 1766.7 1352.6 1757.7 1354 1732.1 1356 1689.7 1357.3 1621.6 1358.2 1513.3 1358.7 1085.9 1359.4z" clip-path="url(#pba2b1126ad)" style="fill: #000092; fill-opacity: 0.7; stroke: #000092; stroke-width: 1.0; stroke-linejoin: round; stroke-opacity: 0.7"/>
<path d="M1085.9 1359.4L1513.3 1358.7 1621.6 1358.2 1689.7 1357.3 1732.1 1356 1757.7 1354 1766.7 1352.6 1773.4 1350.9 1779 1348.6 1783.1 1345.7 1777.8 1345.5 1755.5 1340.3 1744.4 1338.3 1672.9 1329.7 1623.8 1322.9 1563.6 1313.6 1485.4 1300.4 1446.4 1294.5 1369.4 1284 1245.5 1268.4 1085.9 1245.1 1079.3 1246.7 1075.3 1248.4 1072.3 1250.7 1070 1253.7 1068.2 1257.7 1066.8 1263 1065 1279.9 1063.6 1324.1 1063.4 1345.1 1064 1351 1065.2 1355 1067.7 1357.4 1072 1358.5 1078.7 1359.1zM1081.4 1358.5L1072.8 1357.4 1069.6 1356.2 1066.9 1353.9 1065.5 1351 1064.3 1345.1 1065.3 1309 1067.3 1281 1068.7 1271.7 1070.5 1264.7 1073.2 1258.9 1076.3 1254.8 1081 1251.3 1085.9 1249.1 1245.5 1272.3 1368.3 1287.7 1443 1297.8 1481 1303.4 1553.6 1315.4 1597 1322.1 1666.2 1331.8 1733.2 1340 1751.1 1342.7 1764.6 1345.1 1765.7 1345.7 1758.9 1347.9 1749.9 1349.8 1725.4 1352.7 1689.7 1354.7 1638.3 1356.1 1455.3 1357.9 1085.9 1358.8z" clip-path="url(#pba2b1126ad)" style="fill: #0000bf; fill-opacity: 0.7; stroke: #0000bf; stroke-width: 1.0; stroke-linejoin: round; stroke-opacity: 0.7"/>
<path d="M1085.9 1358.8L1455.3 1357.9 1638.3 1356.1 1689.7 1354.7 1725.4 1352.7 1749.9 1349.8 1758.9 1347.9 1765.7 1345.7 1764.6 1345.1 1751.1 1342.7 1733.2 1340 1666.2 1331.8 1597 1322.1 1553.6 1315.4 1481 1303.4 1443 1297.8 1368.3 1287.7 1245.5 1272.3 1085.9 1249.1 1081 1251.3 1076.3 1254.8 1073.2 1258.9 1070.5 1264.7 1068.7 1271.7 1067.3 1281 1065.3 1309 1064.3 1345.1 1065.5 1351 1066.9 1353.9 1069.6 1356.2 1072.8 1357.4 1081.4 1358.5zM1082.5 1357.9L1073.2 1356.2 1069.8 1354.4 1068 1352.7 1066.4 1349.8 1065.3 1345.7 1065.5 1335.2 1067.5 1297.9 1069 1285.1 1070.9 1275.2 1073.5 1267.1 1076.6 1261.2 1080.9 1256.6 1085.9 1253.2 1244.4 1276 1368.3 1291.5 1440.8 1301.2 1479.9 1306.9 1589.3 1324.1 1655.1 1333.3 1725.4 1342.1 1745.4 1345.1 1745.8 1345.7 1724.3 1349.3 1694.1 1351.9 1652.8 1353.8 1597 1355.2 1415.1 1357.1 1085.9 1358.2z" clip-path="url(#pba2b1126ad)" style="fill: #0000ed; fill-opacity: 0.7; stroke: #0000ed; stroke-width: 1.0; stroke-linejoin: round; stroke-opacity: 0.7"/>
<path d="M1085.9 1358.2L1415.1 1357.1 1597 1355.2 1652.8 1353.8 1694.1 1351.9 1724.3 1349.3 1745.8 1345.7 1745.4 1345.1 1725.4 1342.1 1655.1 1333.3 1589.3 1324.1 1479.9 1306.9 1440.8 1301.2 1368.3 1291.5 1244.4 1276 1085.9 1253.2 1080.9 1256.6 1076.6 1261.2 1073.5 1267.1 1070.9 1275.2 1069 1285.1 1067.5 1297.9 1065.5 1335.2 1065.3 1345.7 1066.4 1349.8 1068 1352.7 1069.8 1354.4 1073.2 1356.2 1082.5 1357.9zM1083.2 1357.4L1076.7 1356.2 1071.3 1353.9 1068.1 1350.4 1066.2 1345.1 1068.3 1306.7 1069.8 1293.3 1071.8 1282.2 1074 1274 1077.1 1267.1 1080.8 1261.8 1085.9 1257.3 1244.4 1279.9 1367.1 1295.2 1439.7 1304.8 1479.9 1310.6 1578.1 1325.8 1642 1334.6 1716.5 1344 1724.2 1345.1 1724.2 1345.7 1698.6 1348.8 1665.1 1351.1 1620.5 1353 1561.3 1354.4 1383.9 1356.4 1085.9 1357.7z" clip-path="url(#pba2b1126ad)" style="fill: #0008ff; fill-opacity: 0.7; stroke: #0008ff; stroke-width: 1.0; stroke-linejoin: round; stroke-opacity: 0.7"/>
<path d="M1085.9 1357.7L1383.9 1356.4 1561.3 1354.4 1620.5 1353 1665.1 1351.1 1698.6 1348.8 1724.2 1345.7 1724.2 1345.1 1716.5 1344 1642 1334.6 1578.1 1325.8 1479.9 1310.6 1439.7 1304.8 1367.1 1295.2 1244.4 1279.9 1085.9 1257.3 1080.8 1261.8 1077.1 1267.1 1074 1274 1071.8 1282.2 1069.8 1293.3 1068.3 1306.7 1066.2 1345.1 1068.1 1350.4 1071.3 1353.9 1076.7 1356.2 1083.2 1357.4zM1083.6 1356.8L1077.9 1355.6 1072.5 1353.3 1069 1349.8 1067.1 1345.1 1069.4 1310.2 1071 1297.3 1072.9 1286.9 1075.1 1278.7 1078 1271.7 1081.7 1265.9 1085.9 1261.4 1244.4 1283.8 1424.1 1306.5 1475.4 1313.7 1567.7 1327.6 1629.4 1336.1 1701.5 1345.1 1701.2 1345.7 1671.8 1348.5 1635 1350.6 1588.1 1352.3 1527.8 1353.7 1356 1355.8 1085.9 1357.1z" clip-path="url(#pba2b1126ad)" style="fill: #0030ff; fill-opacity: 0.7; stroke: #0030ff; stroke-width: 1.0; stroke-linejoin: round; stroke-opacity: 0.7"/>
<path d="M1085.9 1357.1L1356 1355.8 1527.8 1353.7 1588.1 1352.3 1635 1350.6 1671.8 1348.5 1701.2 1345.7 1701.5 1345.1 1629.4 1336.1 1567.7 1327.6 1475.4 1313.7 1424.1 1306.5 1244.4 1283.8 1085.9 1261.4 1081.7 1265.9 1078 1271.7 1075.1 1278.7 1072.9 1286.9 1071 1297.3 1069.4 1310.2 1067.1 1345.1 1069 1349.8 1072.5 1353.3 1077.9 1355.6 1083.6 1356.8zM1083.8 1356.2L1077 1354.4 1073.5 1352.7 1069.9 1349.2 1068 1345.1 1070.4 1313.7 1072 1301.4 1073.8 1291.5 1076 1283.4 1078.7 1276.4 1081.9 1270.5 1085.9 1265.4 1232.1 1286 1417.4 1309.4 1473.2 1317 1568.9 1331.1 1677.8 1345.1 1677 1345.7 1659.5 1347.2 1617.1 1349.7 1568 1351.5 1506.6 1352.9 1339.2 1355.1 1085.9 1356.5z" clip-path="url(#pba2b1126ad)" style="fill: #0058ff; fill-opacity: 0.7; stroke: #0058ff; stroke-width: 1.0; stroke-linejoin: round; stroke-opacity: 0.7"/>
<path d="M1085.9 1356.5L1339.2 1355.1 1506.6 1352.9 1568 1351.5 1617.1 1349.7 1659.5 1347.2 1677 1345.7 1677.8 1345.1 1568.9 1331.1 1473.2 1317 1417.4 1309.4 1232.1 1286 1085.9 1265.4 1081.9 1270.5 1078.7 1276.4 1076 1283.4 1073.8 1291.5 1072 1301.4 1070.4 1313.7 1068 1345.1 1069.9 1349.2 1073.5 1352.7 1077 1354.4 1083.8 1356.2zM1084 1355.6L1077.8 1353.9 1074.4 1352.1 1071.2 1349.2 1068.9 1345.1 1071.3 1316.6 1074.7 1295.6 1076.9 1287.4 1079.4 1280.5 1082.4 1274.6 1085.9 1269.5 1233.2 1290 1411.8 1312.4 1470.9 1320.4 1563.6 1333.8 1653.2 1345.1 1651.8 1345.7 1635.5 1346.9 1590.3 1349.2 1540.1 1350.9 1478.7 1352.4 1319.2 1354.5 1085.9 1356z" clip-path="url(#pba2b1126ad)" style="fill: #0080ff; fill-opacity: 0.7; stroke: #0080ff; stroke-width: 1.0; stroke-linejoin: round; stroke-opacity: 0.7"/>
<path d="M1085.9 1356L1319.2 1354.5 1478.7 1352.4 1540.1 1350.9 1590.3 1349.2 1635.5 1346.9 1651.8 1345.7 1653.2 1345.1 1563.6 1333.8 1470.9 1320.4 1411.8 1312.4 1233.2 1290 1085.9 1269.5 1082.4 1274.6 1079.4 1280.5 1076.9 1287.4 1074.7 1295.6 1071.3 1316.6 1068.9 1345.1 1071.2 1349.2 1074.4 1352.1 1077.8 1353.9 1084 1355.6zM1084.2 1355L1078.5 1353.3 1075.1 1351.5 1071.9 1348.6 1069.8 1345.1 1072.3 1318.9 1075.6 1299.1 1077.6 1291.5 1080 1284.5 1082.7 1278.7 1085.9 1273.6 1234.3 1294.1 1406.2 1315.5 1555.7 1336.1 1627.7 1345.1 1625.6 1345.7 1611.5 1346.6 1563.6 1348.8 1453.1 1351.8 1300.2 1353.9 1085.9 1355.4z" clip-path="url(#pba2b1126ad)" style="fill: #00a4ff; fill-opacity: 0.7; stroke: #00a4ff; stroke-width: 1.0; stroke-linejoin: round; stroke-opacity: 0.7"/>
<path d="M1085.9 1355.4L1300.2 1353.9 1453.1 1351.8 1563.6 1348.8 1611.5 1346.6 1625.6 1345.7 1627.7 1345.1 1555.7 1336.1 1406.2 1315.5 1234.3 1294.1 1085.9 1273.6 1082.7 1278.7 1080 1284.5 1077.6 1291.5 1075.6 1299.1 1072.3 1318.9 1069.8 1345.1 1071.9 1348.6 1075.1 1351.5 1078.5 1353.3 1084.2 1355zM1084.3 1354.4L1079 1352.7 1075.8 1351 1072.5 1348 1070.7 1345.1 1073.2 1321.2 1076.4 1302.6 1080.5 1288.6 1083 1282.8 1085.9 1277.7 1235.4 1298.1 1399.5 1318.5 1544.6 1338 1601.4 1345.1 1598.6 1345.7 1588 1346.3 1537.9 1348.5 1428.5 1351.3 1283.4 1353.3 1085.9 1354.8z" clip-path="url(#pba2b1126ad)" style="fill: #00ccff; fill-opacity: 0.7; stroke: #00ccff; stroke-width: 1.0; stroke-linejoin: round; stroke-opacity: 0.7"/>
<path d="M1085.9 1354.8L1283.4 1353.3 1428.5 1351.3 1537.9 1348.5 1588 1346.3 1598.6 1345.7 1601.4 1345.1 1544.6 1338 1399.5 1318.5 1235.4 1298.1 1085.9 1277.7 1083 1282.8 1080.5 1288.6 1076.4 1302.6 1073.2 1321.2 1070.7 1345.1 1072.5 1348 1075.8 1351 1079 1352.7 1084.3 1354.4zM1084.4 1353.9L1079.5 1352.1 1076.4 1350.4 1073.7 1348 1071.7 1345.1 1074.1 1323.6 1077.2 1306.1 1081 1292.7 1085.9 1281.8 1235.4 1302 1390.6 1321.1 1574.4 1345.1 1564.7 1346 1512.2 1348.1 1405.1 1350.8 1267.8 1352.7 1085.9 1354.3z" clip-path="url(#pba2b1126ad)" style="fill: #0cf4eb; fill-opacity: 0.7; stroke: #0cf4eb; stroke-width: 1.0; stroke-linejoin: round; stroke-opacity: 0.7"/>
<path d="M1085.9 1354.3L1267.8 1352.7 1405.1 1350.8 1512.2 1348.1 1564.7 1346 1574.4 1345.1 1390.6 1321.1 1235.4 1302 1085.9 1281.8 1081 1292.7 1077.2 1306.1 1074.1 1323.6 1071.7 1345.1 1073.7 1348 1076.4 1350.4 1079.5 1352.1 1084.4 1353.9zM1084.5 1353.3L1079.9 1351.5 1076.9 1349.8 1074.2 1347.5 1072.6 1345.1 1074.9 1325.3 1077.8 1309.6 1081.5 1296.2 1085.9 1285.8 1234.3 1305.7 1378.3 1323.4 1546.7 1345.1 1542.4 1345.7 1487.7 1347.8 1382.8 1350.3 1253.3 1352.2 1085.9 1353.7z" clip-path="url(#pba2b1126ad)" style="fill: #2cffca; fill-opacity: 0.7; stroke: #2cffca; stroke-width: 1.0; stroke-linejoin: round; stroke-opacity: 0.7"/>
<path d="M1085.9 1353.7L1253.3 1352.2 1382.8 1350.3 1487.7 1347.8 1542.4 1345.7 1546.7 1345.1 1378.3 1323.4 1234.3 1305.7 1085.9 1285.8 1081.5 1296.2 1077.8 1309.6 1074.9 1325.3 1072.6 1345.1 1074.2 1347.5 1076.9 1349.8 1079.9 1351.5 1084.5 1353.3zM1084.5 1352.7L1080.2 1351 1077.3 1349.2 1074.7 1346.9 1073.5 1345.1 1075.8 1327.1 1078.5 1312.5 1081.8 1300.3 1085.9 1289.9 1234.3 1309.6 1372.7 1326.5 1518.3 1345.1 1513.3 1345.7 1463.1 1347.4 1360.4 1349.9 1238.8 1351.7 1085.9 1353.1z" clip-path="url(#pba2b1126ad)" style="fill: #4dffaa; fill-opacity: 0.7; stroke: #4dffaa; stroke-width: 1.0; stroke-linejoin: round; stroke-opacity: 0.7"/>
<path d="M1085.9 1353.1L1238.8 1351.7 1360.4 1349.9 1463.1 1347.4 1513.3 1345.7 1518.3 1345.1 1372.7 1326.5 1234.3 1309.6 1085.9 1289.9 1081.8 1300.3 1078.5 1312.5 1075.8 1327.1 1073.5 1345.1 1074.7 1346.9 1077.3 1349.2 1080.2 1351 1084.5 1352.7zM1084.6 1352.1L1078.6 1349.2 1075.7 1346.9 1074.4 1345.1 1076.6 1328.8 1079.2 1315.4 1082.3 1303.8 1085.9 1294 1232.1 1313.2 1489.4 1345.1 1483.5 1345.7 1439.7 1347.1 1339.2 1349.4 1225.4 1351.1 1085.9 1352.6z" clip-path="url(#pba2b1126ad)" style="fill: #6dff8a; fill-opacity: 0.7; stroke: #6dff8a; stroke-width: 1.0; stroke-linejoin: round; stroke-opacity: 0.7"/>
<path d="M1085.9 1352.6L1225.4 1351.1 1339.2 1349.4 1439.7 1347.1 1483.5 1345.7 1489.4 1345.1 1232.1 1313.2 1085.9 1294 1082.3 1303.8 1079.2 1315.4 1076.6 1328.8 1074.4 1345.1 1075.7 1346.9 1078.6 1349.2 1084.6 1352.1zM1084.6 1351.5L1078.9 1348.6 1075.3 1345.1 1077.4 1330.6 1079.8 1318.3 1082.7 1307.3 1085.9 1298.1 1229.9 1316.8 1459.9 1345.1 1453.2 1345.7 1416.2 1346.8 1319.2 1349 1085.9 1352z" clip-path="url(#pba2b1126ad)" style="fill: #8aff6d; fill-opacity: 0.7; stroke: #8aff6d; stroke-width: 1.0; stroke-linejoin: round; stroke-opacity: 0.7"/>
<path d="M1085.9 1352L1319.2 1349 1416.2 1346.8 1453.2 1345.7 1459.9 1345.1 1229.9 1316.8 1085.9 1298.1 1082.7 1307.3 1079.8 1318.3 1077.4 1330.6 1075.3 1345.1 1078.9 1348.6 1084.6 1351.5zM1084.7 1351L1079.2 1348 1076.2 1345.1 1080.5 1320.7 1083 1310.7 1085.9 1302.1 1226.5 1320.3 1429.8 1345.1 1393.9 1346.5 1300.2 1348.6 1085.9 1351.4z" clip-path="url(#pba2b1126ad)" style="fill: #aaff4d; fill-opacity: 0.7; stroke: #aaff4d; stroke-width: 1.0; stroke-linejoin: round; stroke-opacity: 0.7"/>
<path d="M1085.9 1351.4L1300.2 1348.6 1393.9 1346.5 1429.8 1345.1 1226.5 1320.3 1085.9 1302.1 1083 1310.7 1080.5 1320.7 1076.2 1345.1 1079.2 1348 1084.7 1351zM1084.7 1350.4L1080.4 1348 1077.2 1345.1 1081 1323.6 1085.9 1306.2 1221.9 1323.6 1399.2 1345.1 1373.8 1346.2 1282.3 1348.2 1085.9 1350.9z" clip-path="url(#pba2b1126ad)" style="fill: #caff2c; fill-opacity: 0.7; stroke: #caff2c; stroke-width: 1.0; stroke-linejoin: round; stroke-opacity: 0.7"/>
<path d="M1085.9 1350.9L1282.3 1348.2 1373.8 1346.2 1399.2 1345.1 1221.9 1323.6 1085.9 1306.2 1081 1323.6 1077.2 1345.1 1080.4 1348 1084.7 1350.4zM1084.7 1349.8L1080.6 1347.5 1078.1 1345.1 1081.6 1325.9 1085.9 1310.3 1215.4 1326.7 1368.2 1345.1 1353.7 1345.8 1264.5 1347.8 1085.9 1350.3z" clip-path="url(#pba2b1126ad)" style="fill: #ebff0c; fill-opacity: 0.7; stroke: #ebff0c; stroke-width: 1.0; stroke-linejoin: round; stroke-opacity: 0.7"/>
<path d="M1085.9 1350.3L1264.5 1347.8 1353.7 1345.8 1368.2 1345.1 1215.4 1326.7 1085.9 1310.3 1081.6 1325.9 1078.1 1345.1 1080.6 1347.5 1084.7 1349.8zM1084.8 1349.2L1080.8 1346.9 1079 1345.1 1082.2 1328.2 1085.9 1314.4 1205.8 1329.4 1336.6 1345.1 1326.8 1345.7 1247.7 1347.4 1085.9 1349.7z" clip-path="url(#pba2b1126ad)" style="fill: #ffde00; fill-opacity: 0.7; stroke: #ffde00; stroke-width: 1.0; stroke-linejoin: round; stroke-opacity: 0.7"/>
<path d="M1085.9 1349.7L1247.7 1347.4 1326.8 1345.7 1336.6 1345.1 1205.8 1329.4 1085.9 1314.4 1082.2 1328.2 1079 1345.1 1080.8 1346.9 1084.8 1349.2zM1084.8 1348.6L1081 1346.3 1079.9 1345.1 1082.7 1330.6 1085.9 1318.5 1304.7 1345.1 1294 1345.7 1232.1 1347 1085.9 1349.2z" clip-path="url(#pba2b1126ad)" style="fill: #ffb900; fill-opacity: 0.7; stroke: #ffb900; stroke-width: 1.0; stroke-linejoin: round; stroke-opacity: 0.7"/>
<path d="M1085.9 1349.2L1232.1 1347 1294 1345.7 1304.7 1345.1 1085.9 1318.5 1082.7 1330.6 1079.9 1345.1 1081 1346.3 1084.8 1348.6zM1084.8 1348L1080.8 1345.1 1083.3 1332.9 1085.9 1322.5 1272.3 1345.1 1218.7 1346.5 1085.9 1348.6z" clip-path="url(#pba2b1126ad)" style="fill: #ff9400; fill-opacity: 0.7; stroke: #ff9400; stroke-width: 1.0; stroke-linejoin: round; stroke-opacity: 0.7"/>
<path d="M1085.9 1348.6L1218.7 1346.5 1272.3 1345.1 1085.9 1322.5 1083.3 1332.9 1080.8 1345.1 1084.8 1348zM1084.8 1347.5L1081.7 1345.1 1085.9 1326.6 1239.5 1345.1 1207.5 1346.1 1085.9 1348z" clip-path="url(#pba2b1126ad)" style="fill: #ff7300; fill-opacity: 0.7; stroke: #ff7300; stroke-width: 1.0; stroke-linejoin: round; stroke-opacity: 0.7"/>
<path d="M1085.9 1348L1207.5 1346.1 1239.5 1345.1 1085.9 1326.6 1081.7 1345.1 1084.8 1347.5zM1084.9 1346.9L1082.7 1345.1 1085.9 1330.7 1206.3 1345.1 1193.1 1345.7 1085.9 1347.5z" clip-path="url(#pba2b1126ad)" style="fill: #ff4e00; fill-opacity: 0.7; stroke: #ff4e00; stroke-width: 1.0; stroke-linejoin: round; stroke-opacity: 0.7"/>
<path d="M1085.9 1347.5L1193.1 1345.7 1206.3 1345.1 1085.9 1330.7 1082.7 1345.1 1084.9 1346.9zM1085.9 1346.9L1083.6 1345.1 1085.9 1334.8 1172.8 1345.1 1085.9 1346.9z" clip-path="url(#pba2b1126ad)" style="fill: #ff2900; fill-opacity: 0.7; stroke: #ff2900; stroke-width: 1.0; stroke-linejoin: round; stroke-opacity: 0.7"/>
<path d="M1085.9 1346.9L1172.8 1345.1 1085.9 1334.8 1083.6 1345.1 1085.9 1346.9zM1085.9 1346.3L1084.5 1345.1 1085.9 1338.8 1138.9 1345.1 1085.9 1346.3z" clip-path="url(#pba2b1126ad)" style="fill: #ed0400; fill-opacity: 0.7; stroke: #ed0400; stroke-width: 1.0; stroke-linejoin: round; stroke-opacity: 0.7"/>
<path d="M1085.9 1346.3L1138.9 1345.1 1085.9 1338.8 1084.5 1345.1 1085.9 1346.3zM1085.8 1345.7L1085.4 1345.1 1085.9 1342.9 1104.6 1345.1 1085.9 1345.8z" clip-path="url(#pba2b1126ad)" style="fill: #bf0000; fill-opacity: 0.7; stroke: #bf0000; stroke-width: 1.0; stroke-linejoin: round; stroke-opacity: 0.7"/>
<path d="M1085.9 1345.8L1104.6 1345.1 1085.9 1342.9 1085.4 1345.1 1085.8 1345.7z" clip-path="url(#pba2b1126ad)" style="fill: #920000; fill-opacity: 0.7; stroke: #920000; stroke-width: 1.0; stroke-linejoin: round; stroke-opacity: 0.7"/>
</g>
<g id="matplotlib.axis_9">
<g id="xtick_14">
<g id="line2d_44">
<g>
<path d="M0 0L0 15" transform="translate(1085.902913 1380.3)" style="stroke: #000000; stroke-width: 4.4"/>
</g>
</g>
<g id="text_51">
<text style="font-size: 48px; font-family: 'DejaVu Sans'; text-anchor: middle" x="1085.902913" y="1445.7725" transform="rotate(-0 1085.902913 1445.7725)">0.00</text>
</g>
</g>
<g id="xtick_15">
<g id="line2d_45">
<g>
<path d="M0 0L0 15" transform="translate(1280.927184 1380.3)" style="stroke: #000000; stroke-width: 4.4"/>
</g>
</g>
<g id="text_52">
<text style="font-size: 48px; font-family: 'DejaVu Sans'; text-anchor: middle" x="1280.927184" y="1445.7725" transform="rotate(-0 1280.927184 1445.7725)">0.25</text>
</g>
</g>
<g id="xtick_16">
<g id="line2d_46">
<g>
<path d="M0 0L0 15" transform="translate(1475.951456 1380.3)" style="stroke: #000000; stroke-width: 4.4"/>
</g>
</g>
<g id="text_53">
<text style="font-size: 48px; font-family: 'DejaVu Sans'; text-anchor: middle" x="1475.951456" y="1445.7725" transform="rotate(-0 1475.951456 1445.7725)">0.50</text>
</g>
</g>
<g id="xtick_17">
<g id="line2d_47">
<g>
<path d="M0 0L0 15" transform="translate(1670.975728 1380.3)" style="stroke: #000000; stroke-width: 4.4"/>
</g>
</g>
<g id="text_54">
<text style="font-size: 48px; font-family: 'DejaVu Sans'; text-anchor: middle" x="1670.975728" y="1445.7725" transform="rotate(-0 1670.975728 1445.7725)">0.75</text>
</g>
</g>
<g id="xtick_18">
<g id="line2d_48">
<g>
<path d="M0 0L0 15" transform="translate(1866 1380.3)" style="stroke: #000000; stroke-width: 4.4"/>
</g>
</g>
<g id="text_55">
<text style="font-size: 48px; font-family: 'DejaVu Sans'; text-anchor: middle" x="1866" y="1445.7725" transform="rotate(-0 1866 1445.7725)">1.00</text>
</g>
</g>
</g>
<g id="matplotlib.axis_10">
<g id="ytick_30">
<g id="line2d_49">
<g>
<path d="M0 0L-15 0" transform="translate(1062.5 1361.4375)" style="stroke: #000000; stroke-width: 4.4"/>
</g>
</g>
<g id="text_56">
<text style="font-size: 48px; font-family: 'DejaVu Sans'; text-anchor: end" x="1032.7" y="1379.67375" transform="rotate(-0 1032.7 1379.67375)">0</text>
</g>
</g>
<g id="ytick_31">
<g id="line2d_50">
<g>
<path d="M0 0L-15 0" transform="translate(1062.5 1172.8125)" style="stroke: #000000; stroke-width: 4.4"/>
</g>
</g>
<g id="text_57">
<text style="font-size: 48px; font-family: 'DejaVu Sans'; text-anchor: end" x="1032.7" y="1191.04875" transform="rotate(-0 1032.7 1191.04875)">1</text>
</g>
</g>
</g>
<g id="patch_19">
<path d="M1062.5 1380.3L1062.5 1078.5" style="fill: none; stroke: #000000; stroke-width: 4.4; stroke-linejoin: miter; stroke-linecap: square"/>
</g>
<g id="patch_20">
<path d="M1866 1380.3L1866 1078.5" style="fill: none; stroke: #000000; stroke-width: 4.4; stroke-linejoin: miter; stroke-linecap: square"/>
</g>
<g id="patch_21">
<path d="M1062.5 1380.3L1866 1380.3" style="fill: none; stroke: #000000; stroke-width: 4.4; stroke-linejoin: miter; stroke-linecap: square"/>
</g>
<g id="patch_22">
<path d="M1062.5 1078.5L1866 1078.5" style="fill: none; stroke: #000000; stroke-width: 4.4; stroke-linejoin: miter; stroke-linecap: square"/>
</g>
<g id="patch_23">
<path d="M1062.5 1361.4L1085.9 1361.4 1085.9 1248.3 1062.5 1248.3z" clip-path="url(#pba2b1126ad)" style="stroke: #000000; stroke-width: 6; stroke-linejoin: miter"/>
</g>
</g>
<g id="axes_6">
<g id="patch_24">
<path d="M267 707L833 707 833 720 267 720z" clip-path="url(#p462ad0a0a1)"/>
</g>
<g id="text_58">
<text style="font-size: 48px; font-family: 'DejaVu Sans'; text-anchor: start" x="241.6" y="983" transform="rotate(-0 241.6 983)">1e−3</text>
</g>
<g id="text_59">
<text style="font-size: 48px; font-family: 'DejaVu Sans'; text-anchor: start" x="1821.3" y="1763" transform="rotate(-0 1821.3 1763)">1e−2</text>
</g>
<g id="text_60">
<text style="font-size: 48px; font-family: 'DejaVu Sans'; text-anchor: start" x="1061.7" y="1066.2" transform="rotate(-0 1061.7 1066.2)">1e−4</text>
</g>
<g id="text_61">
<text style="font-size: 48px; font-family: 'DejaVu Sans'; text-anchor: start" x="1736.5" y="1506.6" transform="rotate(-0 1736.5 1506.6)">1e−2</text>
</g>
<g id="line2d_51">
<path d="M277.5 699L275 689 273.7 679.4 273.5 670 274.4 661 276.3 652.4 280.2 641.5 282.7 636.3 288.7 626.4 295.9 617.4 304.1 609.2 313.2 601.8 323.1 595.4 333.5 589.8 344.4 585.1 355.7 581.3 367.4 578.1 385.4 574.7 400.8 572.9 428.7 571.8 459.4 573.1 525.5 579.4 549.4 581 573.4 581.6 609.4 580.8 639.6 579 675.9 575.7 802.9 562.4 836 560.1 857 559.2" clip-path="url(#p462ad0a0a1)" style="fill: none; stroke-dasharray: 45,9.5; stroke-dashoffset: 0; stroke: #b420a8; stroke-width: 12"/>
</g>
<g id="line2d_52">
<path d="M240.5 243L262.7 314.9 279.3 375.4 294.8 440.2 312.9 525.2 317.4 548.1 320 568.8 320.6 581.2 320.2 622.9 321.3 635.1 323.1 643.7 325.8 651.7 328.4 656.5 331.6 660.7 335.6 664.2 340.3 667 345.5 669.1 351.2 670.6 363 672.7 380.9 674 401.9 673.7 431.9 670.8 470.9 665.3 524.6 656.9 587 646.2 663.9 631.9 876.1 591.1 944 579.1 1003.3 569.5 1071.6 559.4 1152.1 548.5 1379.1 520.3 1507.3 503.2 1590.5 490.8 1836.8 452.7 1911.2 442.2 1953 436.8" clip-path="url(#pd182cfcdeb)" style="fill: none; stroke: #000000; stroke-width: 3.3"/>
</g>
<g id="line2d_53">
<path d="M408.9 88L417.2 129.7 425.2 174.5 431.9 216.5 438.3 261.6 443.8 306.8 448.6 352 452.9 400.4 456.4 448.9" clip-path="url(#pd182cfcdeb)" style="fill: none; stroke: #000000; stroke-width: 3.3"/>
</g>
<g id="line2d_54">
<path d="M498.5 319.4L502.1 337.3 505.6 364.3 507.5 397.4 509.2 464 510.5 485.2 513.9 512.4 518.4 533.5 522.1 545 524.5 550.3 528.8 557.8 532.3 562.2 536.2 566.2 543.2 571.2 548.3 573.9 556.4 577 562 578.4 570.7 579.8 576.7 580.2 589 580 607.9 577.7 626.8 574 654.1 567.5 686.1 559 765.4 536.5 794.7 529.2 825.5 522.7" clip-path="url(#pd182cfcdeb)" style="fill: none; stroke: #000000; stroke-width: 3.3"/>
</g>
<g id="line2d_55">
<path d="M577.8 88L584.5 114.2 591.1 143.5 611.4 250 622.7 303.1 632.5 341 643.5 375.6 652.1 398.3 659.3 415.1 667.6 431.2 674.2 440.9 681.8 449.5 688.4 455.1 698.2 461.1 708.9 465.7 714.6 467.5 726.2 470.3 743.9 472.3 755.9 472.5 767.9 471.9 791.9 468.7 810 465 861.1 452.3 890.8 445.7 923.2 439.3 1034.6 419.9 1081.8 410.7 1141 398.1 1302.7 362.3" clip-path="url(#pd182cfcdeb)" style="fill: none; stroke: #000000; stroke-width: 3.3"/>
</g>
<g id="line2d_56">
<path d="M708 88L717.9 121.5 726 144.3 734 164.2 745.7 189.5 754.4 206 763.7 222.2 773.8 237.8 784.6 252.7 796 266.9 808.2 280.3 821.1 292.7 832.5 302.2 846.7 312.5 861.7 321.5 872.1 326.7 882.8 331.3 893.9 335.2 905.3 338.4 922.9 341.9 938 343.9 956.4 345.1 984.4 345.1 1018.5 342.7 1057.8 337.9 1090.5 332.7 1173 318.4 1209 313.3" clip-path="url(#pd182cfcdeb)" style="fill: none; stroke: #000000; stroke-width: 3.3"/>
</g>
<g id="line2d_57">
<path d="M860 88L869.6 104.3 880.1 119.7 891.6 134.1 897.7 140.9 910.4 153.9 923.9 165.9 938.1 176.9 952.9 186.9 976.3 200.2 992.4 207.7 1009 214.3 1026 219.9 1052 226.5 1069.7 229.8 1096.5 233.1 1123.6 234.9 1147.7 235.1 1171.9 234.4 1208 231.6 1231.9 228.7 1261.8 224.1 1291.5 218.6 1327.1 211 1394.8 194.4 1520.1 161.2 1563.3 148.7 1597.7 138 1628.9 127.4 1671.2 111.4 1699.1 99.6 1724 88" clip-path="url(#pd182cfcdeb)" style="fill: none; stroke: #000000; stroke-width: 3.3"/>
</g>
<g id="line2d_58">
<path d="M1100 88L1116.9 95.5 1134 102 1151.4 107.6 1177.7 114.1 1195.5 117.4 1222.3 120.8 1249.4 122.4 1270.6 122.7 1294.9 121.8 1319.2 120 1343.5 117.2 1367.7 113.5 1394.8 108.5 1424.5 102.1 1480 88" clip-path="url(#pd182cfcdeb)" style="fill: none; stroke: #000000; stroke-width: 3.3"/>
</g>
<g id="line2d_59">
<path d="M1257.9 330.7L1319 313.5 1453.4 278 1508.4 261.6 1542.7 250.2 1585.3 234.8 1740.5 175.1 1817.1 146.9 1857.2 133.3 1891.8 122.4 1926.6 112.4 1953 105.5" clip-path="url(#pd182cfcdeb)" style="fill: none; stroke: #000000; stroke-width: 3.3"/>
</g>
<g id="line2d_60">
<path d="M1525 334L1579.9 317.1 1749.5 261.8 1810.1 242.7 1882.7 221.5 1923.6 210.7 1953 203.5" clip-path="url(#pd182cfcdeb)" style="fill: none; stroke: #000000; stroke-width: 3.3"/>
</g>
<g id="line2d_61">
<path d="M958.2 516.7L1099.7 486.7 1229.5 459.7 1469 412.6 1592.9 387 1660.5 371.9 1727.9 355.9 1953 299.5" clip-path="url(#pd182cfcdeb)" style="fill: none; stroke: #000000; stroke-width: 3.3"/>
</g>
<g id="line2d_62">
<path d="M787.6 662.3L877.6 655 976.6 647.8 1141.7 637.6 1355 626.8 1724.7 610 1953 598" clip-path="url(#pd182cfcdeb)" style="fill: none; stroke: #000000; stroke-width: 3.3"/>
</g>
<g id="line2d_63">
<path d="M768.7 688.2L922.3 682.5 1103.1 677.9 1253.8 675.4 1696.9 669.7 1844.5 667 1953 664.3" clip-path="url(#pd182cfcdeb)" style="fill: none; stroke: #000000; stroke-width: 3.3"/>
</g>
<g id="line2d_64">
<path d="M240.5 641.5L255.8 657.3 262.5 666.1 265.2 670.8 267.3 675.8 269 684" clip-path="url(#pd182cfcdeb)" style="fill: none; stroke: #000000; stroke-width: 3.3"/>
</g>
<g id="line2d_65">
<path d="M325.2 1636L324.9 1629.8 323.4 1617.8 319 1600.3 311.6 1580.7 295.4 1544.9 288.5 1528.1 282.8 1511 276.4 1484.8 273.4 1467 271.1 1449 268.9 1415.9 268.9 1379.9 270.6 1352.9 273.9 1326.2 277 1308.4 280.9 1290.8 285.5 1273.3 290.9 1256 297.2 1238.8 304.3 1221.8 310.9 1207.9 316.9 1197.2 323.6 1187.2 331.4 1178.3 335.7 1174.4 342.9 1169.3 350.8 1165.2 359.6 1162.4 368.5 1161.6 377.3 1163.1 382.7 1165.2 387.8 1168.3 392.5 1172.1 412.5 1191.7 422.1 1199 432.3 1205.1 443 1210.3 454.2 1214.4 465.7 1217.6 483.5 1221 495.6 1222.4 510.9 1223.2 529.3 1223 547.6 1221.9 580.1 1218.2 643.8 1208 682.6 1202.8 710.6 1200.7 739.2 1200.6 755 1201.7 767.4 1203.2 785.4 1206.7 797 1209.9 808 1214 818.5 1218.8 828.5 1224.5 838 1230.9 851.4 1241.7 859.8 1249.6 867.8 1258.1 873.5 1264.8 884.4 1279 899.6 1301.7 916.4 1331.3 932 1361.8 968 1434.9 983.6 1469.7 992.2 1491.8 998 1508.8 1002.4 1526.1 1004.1 1537.9 1004.5 1549.7 1004.2 1555.7 1002.3 1567.6 997.2 1591.5 996.1 1603.4 996.4 1609.4 997.4 1615.3 1003 1636" clip-path="url(#p09742c539b)" style="fill: none; stroke-dasharray: 45.24,11.02; stroke-dashoffset: 0; stroke: #000000; stroke-width: 2.9"/>
</g>
<g id="line2d_66">
<path d="M354.5 1636L354.9 1624.5 354 1606.8 351.6 1588.9 342.2 1534.1 340.3 1512.7 340.4 1494.4 341.5 1482.4 343.4 1470.7 346.3 1459.2 350 1448.1 354.6 1437.4 360.1 1427.2 370.2 1413.1 378 1404.3 386.6 1396.1 395.9 1388.5 410.9 1378 424.1 1370 440.7 1361.3 457.6 1353.6 474.8 1346.6 492 1340.5 509.4 1335.2 526.8 1330.7 544.3 1327 562 1324.2 579.7 1322.1 597.5 1320.8 615.3 1320.3 633.3 1320.5 651.3 1321.6 669.2 1323.4 687.2 1325.9 705.1 1329.3 722.8 1333.3 740.4 1338.1 757.8 1343.6 774.9 1349.8 791.8 1356.7 808.3 1364.3 824.4 1372.6 840 1381.8 854.9 1391.8 866.7 1400.8 875.7 1408.6 884.2 1416.9 892.1 1425.6 899.6 1434.9 909.7 1449.7 915.8 1460.1 923.9 1476.3 927.5 1484.6 933.9 1501.7 941.4 1528 945.2 1546 948 1564.1 949.9 1582.3 950.9 1600.4 951.2 1618.3 950.8 1636" clip-path="url(#p09742c539b)" style="fill: none; stroke-dasharray: 51.48,12.54; stroke-dashoffset: 0; stroke: #000000; stroke-width: 3.3"/>
</g>
<g id="line2d_67">
<path d="M376 1636L375.6 1588.3 376 1566.8 377.4 1548.3 380.1 1530 382.8 1518.1 386.4 1506.4 393.2 1489.8 401.9 1474.4 412.6 1460.5 420.8 1452.1 429.7 1444.5 439.3 1437.4 449.4 1431 460 1425.2 471 1419.9 494 1411 520.7 1403.3 547.7 1397.9 574.8 1394.6 601.9 1393.3 628.9 1394.1 646.7 1395.6 664.4 1397.8 690.8 1402.6 725.7 1411.3 760.3 1422.3 783.2 1430.8 803.2 1439 819.9 1446.7 836.1 1455.3 846.3 1461.6 856.1 1468.4 865.3 1475.9 873.8 1484 885.3 1497.6 892 1507.4 897.9 1517.8 903.1 1528.6 907.6 1539.9 911.3 1551.5 914.3 1563.4 916.5 1575.4 918 1587.6 918.7 1599.8 918.7 1612 918 1624.1 916.5 1636" clip-path="url(#p09742c539b)" style="fill: none; stroke-dasharray: 59.28,14.44; stroke-dashoffset: 0; stroke: #000000; stroke-width: 3.8"/>
</g>
<g id="line2d_68">
<path d="M414.5 1636L411.7 1623.7 410.8 1617.5 409.9 1605.3 411 1587.3 414.5 1569.8 420.4 1552.9 428.5 1536.9 438.4 1521.9 449.9 1508.1 462.9 1495.6 477.2 1484.6 492.6 1475 503.3 1469.4 514.4 1464.5 531.6 1458.3 549.4 1453.7 561.4 1451.5 573.5 1450 591.8 1449 610 1449.7 628.1 1451.9 645.7 1455.8 662.8 1461.3 682.1 1469.7 698 1478.1 716.2 1488.9 751.9 1511.4 767.6 1520 776 1523.4 784.8 1525.9 806.7 1529 815.6 1530.8 821 1532.7 825.9 1535.3 832.3 1540.6 837.7 1547.2 842.3 1554.8 847.6 1565.9 855.5 1586.3 862 1606.6 865.6 1624.1 866.5 1636" clip-path="url(#p09742c539b)" style="fill: none; stroke-dasharray: 68.64,16.72; stroke-dashoffset: 0; stroke: #000000; stroke-width: 4.4"/>
</g>
<g id="line2d_69">
<path d="M454.6 1636L454.3 1624.5 455.4 1612.5 457.8 1600.3 461.7 1588.3 466.9 1576.9 473.3 1566.3 481.1 1556.9 487.7 1550.8 495 1545.7 500.2 1542.9 505.7 1540.7 511.5 1539 526.7 1536.7 544.8 1535.9 553.4 1534 561.6 1530 577.6 1519.7 585.9 1515.5 597.3 1511.9 603.1 1510.9 611.9 1510.4 620.6 1511 629.1 1512.7 637.4 1515.4 645.4 1519.1 652.8 1523.7 659.8 1529.2 666.1 1535.5 669.9 1540.1 673.3 1545.1 679.3 1555.9 686.3 1573.5 692.1 1595.2 700 1636" clip-path="url(#p09742c539b)" style="fill: none; stroke-dasharray: 79.56,19.38; stroke-dashoffset: 0; stroke: #000000; stroke-width: 5.1"/>
</g>
<g id="patch_25">
<path d="M621.2 285.5L609.4 271 625.7 267.4z" clip-path="url(#pd182cfcdeb)" style="stroke: #000000; stroke-width: 3.3; stroke-linejoin: miter"/>
</g>
<g id="patch_26">
<path d="M905.5 337.5L887.4 341.9 891.1 325.7z" clip-path="url(#pd182cfcdeb)" style="stroke: #000000; stroke-width: 3.3; stroke-linejoin: miter"/>
</g>
<g id="patch_27">
<path d="M623.5 575L608.5 586.1 605.6 569.6z" clip-path="url(#pd182cfcdeb)" style="stroke: #000000; stroke-width: 3.3; stroke-linejoin: miter"/>
</g>
<g id="patch_28">
<path d="M1247.5 537L1232 547.5 1229.8 530.9z" clip-path="url(#pd182cfcdeb)" style="stroke: #000000; stroke-width: 3.3; stroke-linejoin: miter"/>
</g>
<g id="patch_29">
<path d="M1651 118.5L1638.6 132.4 1632.4 116.9z" clip-path="url(#pd182cfcdeb)" style="stroke: #000000; stroke-width: 3.3; stroke-linejoin: miter"/>
</g>
<g id="patch_30">
<path d="M1922.5 600L1906.1 609 1905.5 592.3z" clip-path="url(#pd182cfcdeb)" style="stroke: #000000; stroke-width: 3.3; stroke-linejoin: miter"/>
</g>
<g id="patch_31">
<path d="M1909 664.8L1892.4 673.3 1892.2 656.7z" clip-path="url(#pd182cfcdeb)" style="stroke: #000000; stroke-width: 3.3; stroke-linejoin: miter"/>
</g>
<g id="line2d_70">
<path d="M413 581L419.5 587.9 426.6 593.3 434.2 597.5 445.1 601.5 456.6 604.1 468.4 605.6 501.6 607.8 544.1 608.5 577.6 607.9 617.4 606.2 706 601.2 763.9 599.1 809.4 599.3 842.5 601" clip-path="url(#p462ad0a0a1)" style="fill: none; stroke-dasharray: 3.6,5.76; stroke-dashoffset: 0; stroke: #b420a8; stroke-width: 3.6"/>
</g>
<g id="line2d_71">
<path d="M322.7 611L340.2 616 357.8 620.3 393.3 626.8 417.1 630 441.1 632.2 486.3 634.8 540.7 635.6 583.2 635 762.2 628.2 807.4 627.3 846.5 627.4" clip-path="url(#p462ad0a0a1)" style="fill: none; stroke-dasharray: 3.6,5.76; stroke-dashoffset: 0; stroke: #b420a8; stroke-width: 3.6"/>
</g>
<g id="line2d_72">
<path d="M311.8 636.5L328.7 643.5 343 648.2 360.4 652.8 378.1 656.3 398.9 659.5 425.8 662.4 470.9 665.6 504.2 666.7 540.6 667 586.2 666.4 735.1 662 780.4 661.6 834.5 662.8" clip-path="url(#p462ad0a0a1)" style="fill: none; stroke-dasharray: 3.6,5.76; stroke-dashoffset: 0; stroke: #b420a8; stroke-width: 3.6"/>
</g>
<g id="patch_32">
<path d="M478.3 606.4L463.8 614.4 463.8 598.4z" clip-path="url(#p462ad0a0a1)" style="fill: #b420a8; stroke: #b420a8; stroke-width: 0.5; stroke-linejoin: miter"/>
</g>
<g id="patch_33">
<path d="M659.8 602.6L645.3 610.6 645.3 594.6z" clip-path="url(#p462ad0a0a1)" style="fill: #b420a8; stroke: #b420a8; stroke-width: 0.5; stroke-linejoin: miter"/>
</g>
<g id="patch_34">
<path d="M842.5 601.2L828 609.2 828 593.2z" clip-path="url(#p462ad0a0a1)" style="fill: #b420a8; stroke: #b420a8; stroke-width: 0.5; stroke-linejoin: miter"/>
</g>
<g id="patch_35">
<path d="M424.5 630.5L410 638.5 410 622.5z" clip-path="url(#p462ad0a0a1)" style="fill: #b420a8; stroke: #b420a8; stroke-width: 0.5; stroke-linejoin: miter"/>
</g>
<g id="patch_36">
<path d="M632.9 633.3L618.4 641.3 618.4 625.3z" clip-path="url(#p462ad0a0a1)" style="fill: #b420a8; stroke: #b420a8; stroke-width: 0.5; stroke-linejoin: miter"/>
</g>
<g id="patch_37">
<path d="M846.5 627.4L832 635.4 832 619.4z" clip-path="url(#p462ad0a0a1)" style="fill: #b420a8; stroke: #b420a8; stroke-width: 0.5; stroke-linejoin: miter"/>
</g>
<g id="patch_38">
<path d="M409.5 660.3L395 668.3 395 652.3z" clip-path="url(#p462ad0a0a1)" style="fill: #b420a8; stroke: #b420a8; stroke-width: 0.5; stroke-linejoin: miter"/>
</g>
<g id="patch_39">
<path d="M617 665.2L602.5 673.2 602.5 657.2z" clip-path="url(#p462ad0a0a1)" style="fill: #b420a8; stroke: #b420a8; stroke-width: 0.5; stroke-linejoin: miter"/>
</g>
<g id="patch_40">
<path d="M834.5 662.8L820 670.8 820 654.8z" clip-path="url(#p462ad0a0a1)" style="fill: #b420a8; stroke: #b420a8; stroke-width: 0.5; stroke-linejoin: miter"/>
</g>
</g>
</g>
<defs>
<clipPath id="p6c0c608e24">
<rect x="242" y="90.4" width="1709.5" height="642.6"/>
</clipPath>
<clipPath id="p4823d36514">
<rect x="2058.5" y="90.5" width="32" height="642.5"/>
</clipPath>
<clipPath id="pb13151eed4">
<rect x="242" y="995" width="1709.5" height="642.5"/>
</clipPath>
<clipPath id="pdc0b831498">
<rect x="2058.5" y="995" width="32" height="642.5"/>
</clipPath>
<clipPath id="pba2b1126ad">
<rect x="1062.5" y="1078.5" width="803.5" height="301.8"/>
</clipPath>
<clipPath id="p462ad0a0a1">
<rect x="0" y="0" width="2361" height="1798"/>
</clipPath>
<clipPath id="pd182cfcdeb">
<rect x="242" y="90.4" width="1709.5" height="642.6"/>
</clipPath>
<clipPath id="p09742c539b">
<rect x="242" y="995" width="1709.5" height="635"/>
</clipPath>
</defs>
</svg>

</body></html>
